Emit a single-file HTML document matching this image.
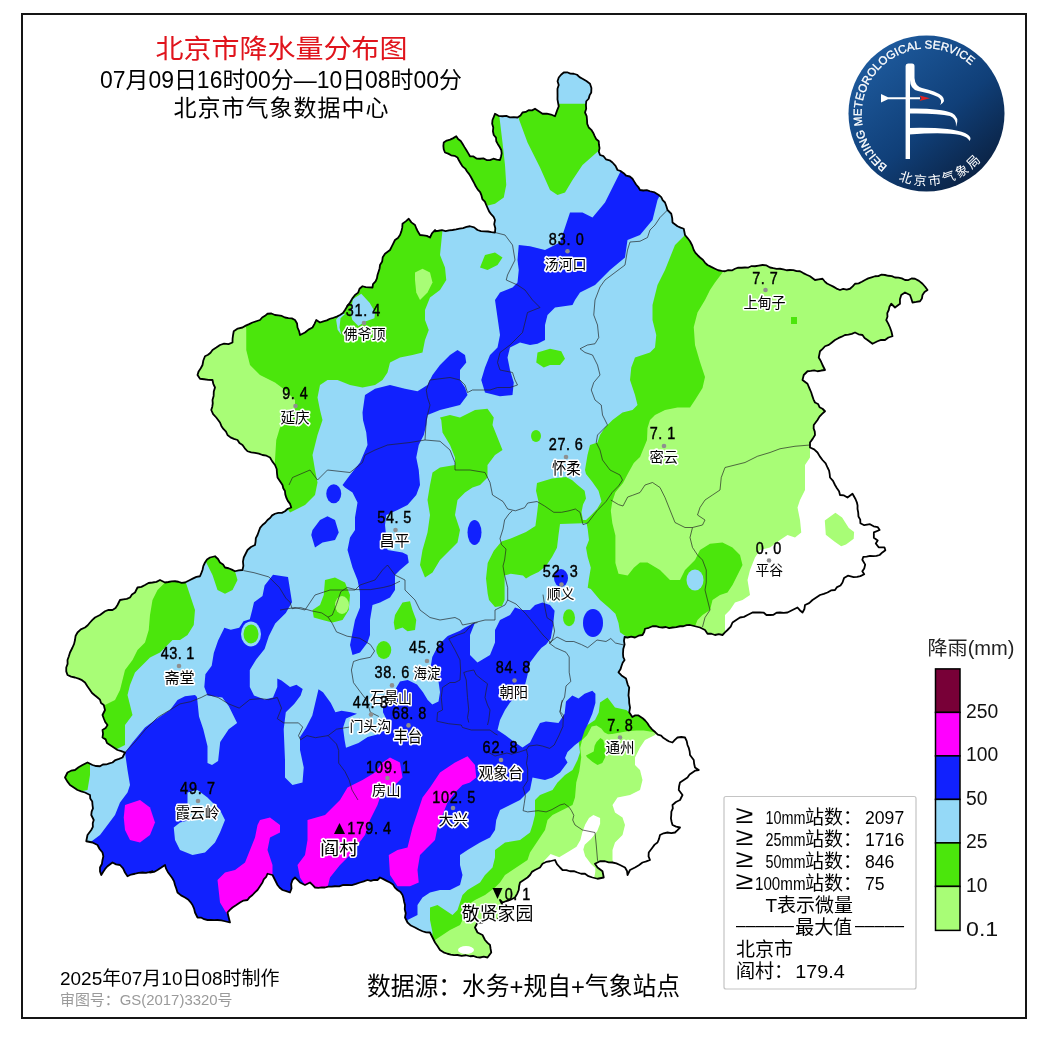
<!DOCTYPE html><html><head><meta charset="utf-8"><style>html,body{margin:0;padding:0;background:#fff;width:1045px;height:1040px;overflow:hidden}svg{display:block}</style></head><body>
<svg width="1045" height="1040" viewBox="0 0 1045 1040">
<defs><clipPath id="bj"><polygon points="558.75,77.5 561.03,74.78 563.75,72.5 567.16,72.29 570.38,73.6 573.75,73.75 577.05,74.75 579.55,77.14 582.5,78.75 586.38,81.05 590,83.75 591.41,88.01 591.25,92.5 589.57,95.41 588.64,98.75 586.25,101.25 585.95,105.01 586.19,108.84 585,112.5 586.65,116.07 587.01,119.97 587.24,123.89 588.75,127.5 591.3,129.85 593.15,132.71 594.56,135.88 596.1,138.97 598.75,141.25 598.92,144.7 599.56,148.11 598.83,151.64 600,155 603.54,156.18 605.92,159.3 609.57,160.3 612.5,162.5 615.53,165.89 617.5,170 620.85,171.16 623.67,173.2 626.21,175.74 629.79,176.5 632.5,178.75 634.25,181.64 636.04,184.51 638.32,187.06 640,190 643.32,190.5 646.76,190.05 650,191.25 654.69,192.4 658.75,195 661.24,197.16 662.67,200.21 665,202.5 666.37,206.21 667.5,210 671.25,213.75 672.21,218.08 672.5,222.5 677.5,226.25 680.57,227.64 683.75,228.75 685,235 687.57,238.07 690,241.25 692.21,245.48 693.75,250 695.43,252.84 697.64,255.23 700,257.5 702.83,259.67 704.91,262.59 707.5,265 711.23,266.92 715,268.75 718.17,270.24 721.57,270.82 725,271.25 728.24,270.05 731.88,270.42 735,268.75 738.25,267.65 741.65,267.77 745,267.5 748.39,267.54 751.59,266.05 755,266.25 758.75,265.61 762.5,265 766.51,265.46 770,267.5 773.3,268.22 776.61,268.81 780,268.75 783.32,269.3 786.58,270.25 790,270 793.37,270.08 796.62,271.18 800,271.25 803.26,273.07 806.6,274.71 810,276.25 815,280 818.74,279.3 822.5,278.75 824.61,281.3 826.99,283.53 830,285 833.35,286.62 836.53,288.6 840,290 843.24,288.8 846.71,289.53 850,288.75 852.69,286.44 855,283.75 858.64,283.33 861.87,281.79 865,280 868.2,278.39 871.59,277.31 875,276.25 878.37,276.13 881.56,274.56 885,275 888.35,275.77 891.81,276.09 895,277.5 898.5,277.66 901.86,278.4 905,280 908.39,280.06 911.58,278.5 915,278.75 919,280.87 922.5,283.75 925.15,286.75 927.5,290 924.53,292.03 922.5,295 921.95,298.41 920,301.25 916.27,301.97 912.5,302.5 911.33,298.72 910,295 905,292.5 901.25,295 899.94,299.28 900,303.75 895,307.5 891.25,303.75 889.47,306.66 888.75,310 887.28,313.17 887.47,316.76 886.25,320 888.26,323.68 890,327.5 891.49,331.81 892.5,336.25 888.44,337.51 885,340 881.11,339.81 877.5,341.25 872.5,343.75 867.5,340 864.56,337.94 862.5,335 858.57,334.3 855,332.5 851.78,333.8 848.45,334.63 845,335 841.68,336.69 838.26,338.19 835,340 831.89,342.45 828.81,344.92 825,346.25 822.6,348.85 820,351.25 818.75,357.5 820.84,361.14 822.5,365 825,370 821.23,370.51 817.5,371.25 814.17,370.43 810.83,370.91 807.5,371.25 803.75,375 802.5,380 807.5,383.75 809.35,388.14 811.25,392.5 812.3,395.91 813.45,399.28 815,402.5 818.01,403.97 819.54,407.22 822.5,408.75 825,411.25 822.12,413.84 819.49,416.64 817.5,420 813.75,425 813.63,428.4 814.78,431.64 815,435 812.65,438.85 810,442.5 810,447.5 814.15,449.41 817.5,452.5 819.8,456.38 822.5,460 825.66,463.31 827.5,467.5 829.09,470.64 829.68,474.04 830,477.5 833.01,480.91 835,485 836.92,488.2 839.05,491.31 840,495 844.03,495.4 847.5,497.5 852.5,493.75 855.58,499.23 856.84,502.31 857.56,505.5 857.5,508.85 858.22,512.66 858.46,516.54 860.24,519.67 860.38,523.27 864.23,525.19 870,524.23 873.61,526.31 877.69,527.12 879.62,530 873.85,532.4 873.85,537.69 877.69,540.58 875.77,543.46 878.65,547.31 884.42,547.31 885.38,550.19 882.37,552.44 879.62,555 876.48,555.95 873.25,556.08 870,555.96 866.67,556.71 863.27,556.92 862.31,559.81 865.19,564.62 864.23,568.46 862.31,571.35 864.23,574.23 860.38,576.15 857.05,576.88 853.65,577.12 847.88,575.67 844.04,578.08 842.5,582.5 840.48,585.48 837.06,587.06 835,590 830.97,590.41 827.5,592.5 823.77,593.81 820,595 816.27,597.52 812.5,600 809.16,603.12 805,605 804.43,608.98 802.5,612.5 799.8,610.2 797.5,607.5 792.5,610 787.5,612.5 783.75,612.92 780,612.5 776.52,612.76 773.48,614.76 770,615 766.46,615 763.53,612.55 760,612.5 756.25,612.45 752.5,612.5 747.5,615 743.95,616.85 740,617.5 736.21,619.94 732.5,622.5 730.71,626.72 727.5,630 724.96,632.46 722.5,635 718.75,634.14 715,635 711.36,633.73 707.5,633.75 705,630 700,627.5 695,626.25 690,625 686.62,625.07 683.39,626.26 680,626.25 676.29,627.11 672.5,627.5 669.17,628.1 665.83,627.01 662.5,627.5 659.17,627.03 655.9,626.17 652.5,626.25 648.85,627.79 645,628.75 644.21,632.06 642.5,635 638.57,635.72 635,637.5 631.25,636.63 627.5,637.5 624.6,637 623.97,640.8 624.6,644.6 623.26,649.11 623,653.8 623.25,657.04 624.6,660 622.67,662.8 621.5,666 620.44,669.36 618.5,672.3 621.5,675.4 626,678.5 627.7,684.6 629.2,687.7 628.82,691.55 628.5,695.4 629.11,699.18 629.2,703 630.05,707.65 629.2,712.3 632.3,717 635.19,715.38 638.5,715.4 643,718.5 645.37,720.75 647.47,723.22 649.2,726 652.05,729.39 655.4,732.3 657.83,734.71 661.15,735.62 663.55,738.08 666.35,739.85 669.23,741.5 672.5,742.5 674.83,739.83 677.5,737.5 681.25,737 685,737.5 686.72,741.09 687.5,745 688.86,748.2 689.68,751.54 690,755 693.75,760 694.15,763.79 695,767.5 698.75,770 695.36,770.58 692.5,772.5 689.57,774.57 687.5,777.5 683.77,780.03 680,782.5 679.1,786.2 678.75,790 682.5,795 680,800 675.95,802.05 672.5,805 672.82,808.43 671.38,811.63 671.25,815 670.93,818.42 671.58,821.73 672.5,825 676.11,826.68 680,827.5 677.53,830.03 675,832.5 671.25,833.08 667.5,832.5 663.59,833.26 660,835 659.04,838.85 657.5,842.5 654.62,844.62 652.5,847.5 648.75,852.5 648.54,856.39 650,860 646.31,861.43 642.5,862.5 638.85,865.15 635,867.5 630,870 627.5,875 627.01,871 625,867.5 620,865 616.38,863.37 612.5,862.5 608.65,862.46 605,861.25 600,861.25 595,863.75 597.5,867.5 602.5,871.25 603.75,877.5 597.5,878.75 592.5,877.5 588.45,876.23 585,873.75 581.15,873.74 577.5,872.5 573.87,871.16 570,871.25 566.34,870.08 562.5,870 560,867.5 556.97,864.1 555,860 550,861.25 546.06,861.94 542.5,863.75 540,867.5 535,870 531.89,871.89 530,875 527.5,877.5 523.75,880 520,882.5 519.1,886.2 518.75,890 517.12,893.87 515,897.5 510,900 506.22,901.17 502.5,902.5 500,900 502.5,905 500,910 499.81,913.49 499.18,916.88 497.5,920 492.5,920 487.5,917.5 484.4,919.4 482.5,922.5 477.5,922.5 475,927.5 477.5,932.5 482.5,935 485,940 487.31,942.69 490,945 490.58,948.76 491.25,952.5 487.5,957.5 483.75,956.72 480,957.5 476.65,957.2 473.42,956 470,956.25 465.89,955.25 461.61,955.93 457.5,955 454.11,955.03 450.79,954.54 447.5,953.75 443.54,952.29 440,950 437.63,946.16 435,942.5 432.5,937.5 430,932.5 426.18,932.3 422.5,931.25 418.68,929.51 415,927.5 410.88,925.55 407.5,922.5 405,917.5 405.74,913.33 404.74,909.17 405,905 404.09,901.68 403.48,898.3 402.5,895 400.51,891.99 397.5,890 394.9,887.6 393.03,884.47 390,882.5 386.67,880.83 383.36,879.12 380,877.5 377.5,880 374.17,879.96 370.83,880.87 367.5,880 363.78,881.35 360,882.5 355.95,883.89 351.84,885.04 347.5,885 343.28,884.88 339.23,886.42 335,886.25 331.67,886.71 328.28,886.68 325,887.5 321.67,887.4 318.33,887.81 315,887.5 312.52,884.98 310,882.5 305,885 300,882.5 297.57,879.93 295,877.5 292.5,880 291.16,884.07 291.53,888.47 290,892.5 286.28,891.15 282.5,890 279.68,887.82 277.5,885 275,880 272.5,875 267.5,873.75 266.18,876.87 263.74,879.34 262.5,882.5 259.99,886.24 257.5,890 254.92,892.42 252.5,895 249.67,897.17 247.5,900 243.52,900.55 240,902.5 236.31,905.08 232.5,907.5 229.86,909.86 227.5,912.5 228.32,915.84 229.15,919.17 230,922.5 225,921.25 221.31,920.28 217.5,920 214.17,920.09 210.83,919.94 207.5,920 204.16,919.21 201.03,917.56 197.5,917.5 195,912.5 194.09,908.64 192.5,905 190.48,902.02 188.06,899.44 185,897.5 181.01,895.36 177.5,892.5 176.35,888.72 175,885 174.05,881.31 172.21,878.06 170,875 167.75,871.96 166.06,868.64 165,865 161.31,867.59 157.5,870 153.99,871.98 150,872.5 152.5,871.25 149.22,872.13 145.93,872.85 142.5,872.5 138.7,872.82 135,873.75 131.09,874.52 127.5,876.25 125,872.5 123.09,868.35 120,865 116.05,864.34 112.5,862.5 107.5,866.25 105.1,868.94 103.1,871.92 101.25,875 99.99,871.36 100,867.5 101.9,863.97 102.5,860 103.34,856.25 102.5,852.5 99.58,849.03 97.5,845 92.5,842.5 86.25,841.25 87.5,835 91.25,830 92.87,826.86 92.74,823.29 93.75,820 91.25,815 91.64,811.66 92.96,808.44 92.5,805 92.25,801.52 90.24,798.48 90,795 85,792.5 81.21,791.37 77.5,790 73.77,787.48 70,785 67.26,781.41 65,777.5 67.5,772.5 71.08,770.73 75,770 78.57,767.23 82.5,765 87.5,762.5 92.5,765 96.18,766.02 100,766.25 102.88,764.48 106.28,764.47 109.34,763.33 112.5,762.5 115.45,760.06 119.03,758.9 122.5,757.5 125,752.5 121.32,751.04 117.5,750 113.76,747.48 110,745 106.95,743.05 105.62,739.38 102.5,737.5 103.02,733.75 102.5,730 105.6,728.1 107.5,725 105.2,721.98 103.79,718.52 102.5,715 105,710 103.75,705 101.03,703.03 99.97,699.68 97.5,697.5 94.71,695.29 92.03,692.97 90,690 87.38,686.33 85,682.5 82,680.17 78.59,678.65 75,677.5 71.11,676.66 67.5,675 66.25,671.35 66.25,667.5 67.62,663.87 67.5,660 68.87,656.29 70,652.5 72.5,647.5 74.09,643.86 75,640 75.55,636.02 77.5,632.5 80.81,629.34 85,627.5 87.74,625.24 90,622.5 92.4,619.9 95,617.5 100,615 105,611.25 108.62,609.87 112.5,610 115.56,608.06 117.5,605 120,600 123.39,599.4 126.8,598.86 130,597.5 131.97,594.47 135,592.5 137.5,587.5 141.45,586.86 145,585 148.5,583.01 152.5,582.5 156.46,581.87 160,580 165,582.5 168.32,582 171.63,581.38 175,581.25 178.32,581.76 181.57,582.85 185,582.5 190,580 193.19,578.36 196.43,576.88 200,576.25 201.29,573.14 202.5,570 203.3,566.1 205,562.5 207,559.5 210,557.5 215,556.25 217.98,558.99 220,562.5 223.07,564.43 225,567.5 228.52,568.25 231.79,569.68 235,571.25 238.69,570.28 242.5,570 243.38,565.88 242.96,561.63 243.75,557.5 245.63,553.75 247.5,550 250.93,547.02 255,545 255.57,541.6 255.83,538.12 257.5,535 258.76,531.47 260.05,527.94 262.5,525 265.3,522.8 267.5,520 270.06,517.99 272.14,515.4 275,513.75 278.32,512.87 281.86,512.84 285,511.25 287.76,508.77 291.25,507.5 290.1,503.91 287.81,500.89 286.25,497.5 285.3,494.38 284.95,491.08 283.25,488.18 282.5,485 280.01,481.24 277.5,477.5 277,473.27 276.68,469 275,465 272.26,461.41 270,457.5 266.44,455.68 262.5,455 258.84,453.7 255.06,452.89 251.21,452.35 247.5,451.25 244.79,448.3 242.5,445 239.43,443.07 237.5,440 233.87,438.93 230.49,437.36 227.5,435 226,431.65 223.37,428.98 221.36,425.94 220,422.5 216.25,417.5 213.13,414.16 211.25,410 212.28,406.74 212.75,403.42 212.5,400 213.63,395.89 213.78,391.59 215,387.5 213.31,383.9 212.5,380 208.3,379.95 204.16,379.24 200,378.75 197.5,375 198.62,371.39 200.75,368.29 202.5,365 203.34,360.51 205,356.25 208.03,354.81 210.54,352.74 212.5,350 216.3,347.57 220,345 224.08,343.72 228.5,344.16 232.5,342.5 232.58,338.71 233.08,334.97 233.75,331.25 237.77,328.55 242.5,327.5 245.74,325.64 249.15,324.13 252.5,322.5 256.25,321.25 260,320 262.16,317.5 265.01,315.84 267.5,313.75 271.4,313.5 275,315 278.44,315.42 281.85,315.95 285,317.5 288.38,318.16 291.87,318.37 295,320 297.07,323.48 297.5,327.5 299.08,331.14 300,335 305,332.5 308.48,329.6 312.5,327.5 314.51,323.82 316.25,320 320,322.5 323.35,321.3 326.83,320.42 330,318.75 333.43,317.77 336.8,316.61 340,315 342.98,312.98 345,310 347.33,306.14 350,302.5 352.24,298.58 355,295 358.16,292.65 359.52,288.76 362.5,286.25 365.78,287.07 369.13,287.34 372.5,287.5 372.99,284.07 375.56,281.47 376.91,278.39 377.5,275 378.56,271.72 379.58,268.44 380,265 382.18,261.48 382.74,257.24 385,253.75 390,250 391.7,246.69 393.34,243.34 395,240 397.93,237.93 400,235 401.37,231.37 402.24,227.63 402.5,223.75 405.72,221.37 408.75,218.75 411.38,222.37 415,225 416.37,228.48 418.02,231.82 420,235 423.45,235.36 426.87,235.85 430,237.5 431.95,233.38 435,230 435,231.25 438.48,230.75 441.95,230.04 445.54,231.1 449.01,230.36 452.5,230 456.05,229.47 459.55,228.72 463.07,228.07 466.5,226.98 470,226.25 474.15,227.33 477.5,230 480.92,231.03 484.44,231.44 488,231.51 491.49,232.06 495,232.5 495.29,228.33 494.22,224.17 495,220 493.62,216.79 491.11,214.22 489.09,211.39 487.64,208.21 486.25,205 484.89,201.68 482.35,199.01 481.47,195.42 480.13,192.09 477.65,189.38 475.75,186.35 474.19,183.14 472.5,180 470.9,177 469.15,174.11 467.05,171.45 465.21,168.61 462.49,166.36 460.72,163.48 459.01,160.56 457.5,157.5 454.54,155.84 451.12,155.33 448.17,153.64 445,152.5 443.71,149.28 443.38,145.93 443.75,142.5 446.69,140.57 450.14,139.65 453.28,138.12 456.25,136.25 458.09,138.95 460.71,141.01 462.5,143.75 464.35,146.89 466.3,149.97 468.18,153.09 470,156.25 473.5,156.42 476.49,158.6 480,158.75 483.37,158.42 486.61,160.03 489.95,160.16 493.39,158.72 496.67,159.72 500,160 500.99,156.74 501.67,153.44 501.25,150 499.67,147.04 497.88,144.19 496.28,141.23 495.97,137.64 493.75,135 492.92,131.29 493.27,127.49 492.17,123.8 492.5,120 493.79,116.89 495,113.75 498.49,115.77 502.5,116.25 506.3,115.9 509.95,117.45 513.75,117.2 517.5,117.5 520.49,115.49 522.5,112.5 525.73,111.91 528.61,110.16 532.08,110.37 535,108.75 538.76,111.23 542.5,113.75 546.83,113.74 551.01,114.54 555,116.25 556.24,112.91 557.42,109.55 558.75,106.25 558.08,102.84 557.48,99.43 557.53,95.96 557.5,92.5 557.48,88.72 558.74,85.05 557.54,81.18"/></clipPath><linearGradient id="lg1" x1="0.15" y1="0.1" x2="0.85" y2="0.95"><stop offset="0" stop-color="#1e5b9e"/><stop offset="0.55" stop-color="#103f78"/><stop offset="1" stop-color="#0a1f3e"/></linearGradient><path id="arcTop" d="M 870.5,168 A 69,69 0 1,1 981.5,160"/><path id="arcBot" d="M 893,178 A 60,60 0 0,0 968,172"/></defs>
<rect x="0" y="0" width="1045" height="1040" fill="#fff"/>
<g clip-path="url(#bj)">
<polygon points="558.75,77.5 561.03,74.78 563.75,72.5 567.16,72.29 570.38,73.6 573.75,73.75 577.05,74.75 579.55,77.14 582.5,78.75 586.38,81.05 590,83.75 591.41,88.01 591.25,92.5 589.57,95.41 588.64,98.75 586.25,101.25 585.95,105.01 586.19,108.84 585,112.5 586.65,116.07 587.01,119.97 587.24,123.89 588.75,127.5 591.3,129.85 593.15,132.71 594.56,135.88 596.1,138.97 598.75,141.25 598.92,144.7 599.56,148.11 598.83,151.64 600,155 603.54,156.18 605.92,159.3 609.57,160.3 612.5,162.5 615.53,165.89 617.5,170 620.85,171.16 623.67,173.2 626.21,175.74 629.79,176.5 632.5,178.75 634.25,181.64 636.04,184.51 638.32,187.06 640,190 643.32,190.5 646.76,190.05 650,191.25 654.69,192.4 658.75,195 661.24,197.16 662.67,200.21 665,202.5 666.37,206.21 667.5,210 671.25,213.75 672.21,218.08 672.5,222.5 677.5,226.25 680.57,227.64 683.75,228.75 685,235 687.57,238.07 690,241.25 692.21,245.48 693.75,250 695.43,252.84 697.64,255.23 700,257.5 702.83,259.67 704.91,262.59 707.5,265 711.23,266.92 715,268.75 718.17,270.24 721.57,270.82 725,271.25 728.24,270.05 731.88,270.42 735,268.75 738.25,267.65 741.65,267.77 745,267.5 748.39,267.54 751.59,266.05 755,266.25 758.75,265.61 762.5,265 766.51,265.46 770,267.5 773.3,268.22 776.61,268.81 780,268.75 783.32,269.3 786.58,270.25 790,270 793.37,270.08 796.62,271.18 800,271.25 803.26,273.07 806.6,274.71 810,276.25 815,280 818.74,279.3 822.5,278.75 824.61,281.3 826.99,283.53 830,285 833.35,286.62 836.53,288.6 840,290 843.24,288.8 846.71,289.53 850,288.75 852.69,286.44 855,283.75 858.64,283.33 861.87,281.79 865,280 868.2,278.39 871.59,277.31 875,276.25 878.37,276.13 881.56,274.56 885,275 888.35,275.77 891.81,276.09 895,277.5 898.5,277.66 901.86,278.4 905,280 908.39,280.06 911.58,278.5 915,278.75 919,280.87 922.5,283.75 925.15,286.75 927.5,290 924.53,292.03 922.5,295 921.95,298.41 920,301.25 916.27,301.97 912.5,302.5 911.33,298.72 910,295 905,292.5 901.25,295 899.94,299.28 900,303.75 895,307.5 891.25,303.75 889.47,306.66 888.75,310 887.28,313.17 887.47,316.76 886.25,320 888.26,323.68 890,327.5 891.49,331.81 892.5,336.25 888.44,337.51 885,340 881.11,339.81 877.5,341.25 872.5,343.75 867.5,340 864.56,337.94 862.5,335 858.57,334.3 855,332.5 851.78,333.8 848.45,334.63 845,335 841.68,336.69 838.26,338.19 835,340 831.89,342.45 828.81,344.92 825,346.25 822.6,348.85 820,351.25 818.75,357.5 820.84,361.14 822.5,365 825,370 821.23,370.51 817.5,371.25 814.17,370.43 810.83,370.91 807.5,371.25 803.75,375 802.5,380 807.5,383.75 809.35,388.14 811.25,392.5 812.3,395.91 813.45,399.28 815,402.5 818.01,403.97 819.54,407.22 822.5,408.75 825,411.25 822.12,413.84 819.49,416.64 817.5,420 813.75,425 813.63,428.4 814.78,431.64 815,435 812.65,438.85 810,442.5 810,447.5 814.15,449.41 817.5,452.5 819.8,456.38 822.5,460 825.66,463.31 827.5,467.5 829.09,470.64 829.68,474.04 830,477.5 833.01,480.91 835,485 836.92,488.2 839.05,491.31 840,495 844.03,495.4 847.5,497.5 852.5,493.75 855.58,499.23 856.84,502.31 857.56,505.5 857.5,508.85 858.22,512.66 858.46,516.54 860.24,519.67 860.38,523.27 864.23,525.19 870,524.23 873.61,526.31 877.69,527.12 879.62,530 873.85,532.4 873.85,537.69 877.69,540.58 875.77,543.46 878.65,547.31 884.42,547.31 885.38,550.19 882.37,552.44 879.62,555 876.48,555.95 873.25,556.08 870,555.96 866.67,556.71 863.27,556.92 862.31,559.81 865.19,564.62 864.23,568.46 862.31,571.35 864.23,574.23 860.38,576.15 857.05,576.88 853.65,577.12 847.88,575.67 844.04,578.08 842.5,582.5 840.48,585.48 837.06,587.06 835,590 830.97,590.41 827.5,592.5 823.77,593.81 820,595 816.27,597.52 812.5,600 809.16,603.12 805,605 804.43,608.98 802.5,612.5 799.8,610.2 797.5,607.5 792.5,610 787.5,612.5 783.75,612.92 780,612.5 776.52,612.76 773.48,614.76 770,615 766.46,615 763.53,612.55 760,612.5 756.25,612.45 752.5,612.5 747.5,615 743.95,616.85 740,617.5 736.21,619.94 732.5,622.5 730.71,626.72 727.5,630 724.96,632.46 722.5,635 718.75,634.14 715,635 711.36,633.73 707.5,633.75 705,630 700,627.5 695,626.25 690,625 686.62,625.07 683.39,626.26 680,626.25 676.29,627.11 672.5,627.5 669.17,628.1 665.83,627.01 662.5,627.5 659.17,627.03 655.9,626.17 652.5,626.25 648.85,627.79 645,628.75 644.21,632.06 642.5,635 638.57,635.72 635,637.5 631.25,636.63 627.5,637.5 624.6,637 623.97,640.8 624.6,644.6 623.26,649.11 623,653.8 623.25,657.04 624.6,660 622.67,662.8 621.5,666 620.44,669.36 618.5,672.3 621.5,675.4 626,678.5 627.7,684.6 629.2,687.7 628.82,691.55 628.5,695.4 629.11,699.18 629.2,703 630.05,707.65 629.2,712.3 632.3,717 635.19,715.38 638.5,715.4 643,718.5 645.37,720.75 647.47,723.22 649.2,726 652.05,729.39 655.4,732.3 657.83,734.71 661.15,735.62 663.55,738.08 666.35,739.85 669.23,741.5 672.5,742.5 674.83,739.83 677.5,737.5 681.25,737 685,737.5 686.72,741.09 687.5,745 688.86,748.2 689.68,751.54 690,755 693.75,760 694.15,763.79 695,767.5 698.75,770 695.36,770.58 692.5,772.5 689.57,774.57 687.5,777.5 683.77,780.03 680,782.5 679.1,786.2 678.75,790 682.5,795 680,800 675.95,802.05 672.5,805 672.82,808.43 671.38,811.63 671.25,815 670.93,818.42 671.58,821.73 672.5,825 676.11,826.68 680,827.5 677.53,830.03 675,832.5 671.25,833.08 667.5,832.5 663.59,833.26 660,835 659.04,838.85 657.5,842.5 654.62,844.62 652.5,847.5 648.75,852.5 648.54,856.39 650,860 646.31,861.43 642.5,862.5 638.85,865.15 635,867.5 630,870 627.5,875 627.01,871 625,867.5 620,865 616.38,863.37 612.5,862.5 608.65,862.46 605,861.25 600,861.25 595,863.75 597.5,867.5 602.5,871.25 603.75,877.5 597.5,878.75 592.5,877.5 588.45,876.23 585,873.75 581.15,873.74 577.5,872.5 573.87,871.16 570,871.25 566.34,870.08 562.5,870 560,867.5 556.97,864.1 555,860 550,861.25 546.06,861.94 542.5,863.75 540,867.5 535,870 531.89,871.89 530,875 527.5,877.5 523.75,880 520,882.5 519.1,886.2 518.75,890 517.12,893.87 515,897.5 510,900 506.22,901.17 502.5,902.5 500,900 502.5,905 500,910 499.81,913.49 499.18,916.88 497.5,920 492.5,920 487.5,917.5 484.4,919.4 482.5,922.5 477.5,922.5 475,927.5 477.5,932.5 482.5,935 485,940 487.31,942.69 490,945 490.58,948.76 491.25,952.5 487.5,957.5 483.75,956.72 480,957.5 476.65,957.2 473.42,956 470,956.25 465.89,955.25 461.61,955.93 457.5,955 454.11,955.03 450.79,954.54 447.5,953.75 443.54,952.29 440,950 437.63,946.16 435,942.5 432.5,937.5 430,932.5 426.18,932.3 422.5,931.25 418.68,929.51 415,927.5 410.88,925.55 407.5,922.5 405,917.5 405.74,913.33 404.74,909.17 405,905 404.09,901.68 403.48,898.3 402.5,895 400.51,891.99 397.5,890 394.9,887.6 393.03,884.47 390,882.5 386.67,880.83 383.36,879.12 380,877.5 377.5,880 374.17,879.96 370.83,880.87 367.5,880 363.78,881.35 360,882.5 355.95,883.89 351.84,885.04 347.5,885 343.28,884.88 339.23,886.42 335,886.25 331.67,886.71 328.28,886.68 325,887.5 321.67,887.4 318.33,887.81 315,887.5 312.52,884.98 310,882.5 305,885 300,882.5 297.57,879.93 295,877.5 292.5,880 291.16,884.07 291.53,888.47 290,892.5 286.28,891.15 282.5,890 279.68,887.82 277.5,885 275,880 272.5,875 267.5,873.75 266.18,876.87 263.74,879.34 262.5,882.5 259.99,886.24 257.5,890 254.92,892.42 252.5,895 249.67,897.17 247.5,900 243.52,900.55 240,902.5 236.31,905.08 232.5,907.5 229.86,909.86 227.5,912.5 228.32,915.84 229.15,919.17 230,922.5 225,921.25 221.31,920.28 217.5,920 214.17,920.09 210.83,919.94 207.5,920 204.16,919.21 201.03,917.56 197.5,917.5 195,912.5 194.09,908.64 192.5,905 190.48,902.02 188.06,899.44 185,897.5 181.01,895.36 177.5,892.5 176.35,888.72 175,885 174.05,881.31 172.21,878.06 170,875 167.75,871.96 166.06,868.64 165,865 161.31,867.59 157.5,870 153.99,871.98 150,872.5 152.5,871.25 149.22,872.13 145.93,872.85 142.5,872.5 138.7,872.82 135,873.75 131.09,874.52 127.5,876.25 125,872.5 123.09,868.35 120,865 116.05,864.34 112.5,862.5 107.5,866.25 105.1,868.94 103.1,871.92 101.25,875 99.99,871.36 100,867.5 101.9,863.97 102.5,860 103.34,856.25 102.5,852.5 99.58,849.03 97.5,845 92.5,842.5 86.25,841.25 87.5,835 91.25,830 92.87,826.86 92.74,823.29 93.75,820 91.25,815 91.64,811.66 92.96,808.44 92.5,805 92.25,801.52 90.24,798.48 90,795 85,792.5 81.21,791.37 77.5,790 73.77,787.48 70,785 67.26,781.41 65,777.5 67.5,772.5 71.08,770.73 75,770 78.57,767.23 82.5,765 87.5,762.5 92.5,765 96.18,766.02 100,766.25 102.88,764.48 106.28,764.47 109.34,763.33 112.5,762.5 115.45,760.06 119.03,758.9 122.5,757.5 125,752.5 121.32,751.04 117.5,750 113.76,747.48 110,745 106.95,743.05 105.62,739.38 102.5,737.5 103.02,733.75 102.5,730 105.6,728.1 107.5,725 105.2,721.98 103.79,718.52 102.5,715 105,710 103.75,705 101.03,703.03 99.97,699.68 97.5,697.5 94.71,695.29 92.03,692.97 90,690 87.38,686.33 85,682.5 82,680.17 78.59,678.65 75,677.5 71.11,676.66 67.5,675 66.25,671.35 66.25,667.5 67.62,663.87 67.5,660 68.87,656.29 70,652.5 72.5,647.5 74.09,643.86 75,640 75.55,636.02 77.5,632.5 80.81,629.34 85,627.5 87.74,625.24 90,622.5 92.4,619.9 95,617.5 100,615 105,611.25 108.62,609.87 112.5,610 115.56,608.06 117.5,605 120,600 123.39,599.4 126.8,598.86 130,597.5 131.97,594.47 135,592.5 137.5,587.5 141.45,586.86 145,585 148.5,583.01 152.5,582.5 156.46,581.87 160,580 165,582.5 168.32,582 171.63,581.38 175,581.25 178.32,581.76 181.57,582.85 185,582.5 190,580 193.19,578.36 196.43,576.88 200,576.25 201.29,573.14 202.5,570 203.3,566.1 205,562.5 207,559.5 210,557.5 215,556.25 217.98,558.99 220,562.5 223.07,564.43 225,567.5 228.52,568.25 231.79,569.68 235,571.25 238.69,570.28 242.5,570 243.38,565.88 242.96,561.63 243.75,557.5 245.63,553.75 247.5,550 250.93,547.02 255,545 255.57,541.6 255.83,538.12 257.5,535 258.76,531.47 260.05,527.94 262.5,525 265.3,522.8 267.5,520 270.06,517.99 272.14,515.4 275,513.75 278.32,512.87 281.86,512.84 285,511.25 287.76,508.77 291.25,507.5 290.1,503.91 287.81,500.89 286.25,497.5 285.3,494.38 284.95,491.08 283.25,488.18 282.5,485 280.01,481.24 277.5,477.5 277,473.27 276.68,469 275,465 272.26,461.41 270,457.5 266.44,455.68 262.5,455 258.84,453.7 255.06,452.89 251.21,452.35 247.5,451.25 244.79,448.3 242.5,445 239.43,443.07 237.5,440 233.87,438.93 230.49,437.36 227.5,435 226,431.65 223.37,428.98 221.36,425.94 220,422.5 216.25,417.5 213.13,414.16 211.25,410 212.28,406.74 212.75,403.42 212.5,400 213.63,395.89 213.78,391.59 215,387.5 213.31,383.9 212.5,380 208.3,379.95 204.16,379.24 200,378.75 197.5,375 198.62,371.39 200.75,368.29 202.5,365 203.34,360.51 205,356.25 208.03,354.81 210.54,352.74 212.5,350 216.3,347.57 220,345 224.08,343.72 228.5,344.16 232.5,342.5 232.58,338.71 233.08,334.97 233.75,331.25 237.77,328.55 242.5,327.5 245.74,325.64 249.15,324.13 252.5,322.5 256.25,321.25 260,320 262.16,317.5 265.01,315.84 267.5,313.75 271.4,313.5 275,315 278.44,315.42 281.85,315.95 285,317.5 288.38,318.16 291.87,318.37 295,320 297.07,323.48 297.5,327.5 299.08,331.14 300,335 305,332.5 308.48,329.6 312.5,327.5 314.51,323.82 316.25,320 320,322.5 323.35,321.3 326.83,320.42 330,318.75 333.43,317.77 336.8,316.61 340,315 342.98,312.98 345,310 347.33,306.14 350,302.5 352.24,298.58 355,295 358.16,292.65 359.52,288.76 362.5,286.25 365.78,287.07 369.13,287.34 372.5,287.5 372.99,284.07 375.56,281.47 376.91,278.39 377.5,275 378.56,271.72 379.58,268.44 380,265 382.18,261.48 382.74,257.24 385,253.75 390,250 391.7,246.69 393.34,243.34 395,240 397.93,237.93 400,235 401.37,231.37 402.24,227.63 402.5,223.75 405.72,221.37 408.75,218.75 411.38,222.37 415,225 416.37,228.48 418.02,231.82 420,235 423.45,235.36 426.87,235.85 430,237.5 431.95,233.38 435,230 435,231.25 438.48,230.75 441.95,230.04 445.54,231.1 449.01,230.36 452.5,230 456.05,229.47 459.55,228.72 463.07,228.07 466.5,226.98 470,226.25 474.15,227.33 477.5,230 480.92,231.03 484.44,231.44 488,231.51 491.49,232.06 495,232.5 495.29,228.33 494.22,224.17 495,220 493.62,216.79 491.11,214.22 489.09,211.39 487.64,208.21 486.25,205 484.89,201.68 482.35,199.01 481.47,195.42 480.13,192.09 477.65,189.38 475.75,186.35 474.19,183.14 472.5,180 470.9,177 469.15,174.11 467.05,171.45 465.21,168.61 462.49,166.36 460.72,163.48 459.01,160.56 457.5,157.5 454.54,155.84 451.12,155.33 448.17,153.64 445,152.5 443.71,149.28 443.38,145.93 443.75,142.5 446.69,140.57 450.14,139.65 453.28,138.12 456.25,136.25 458.09,138.95 460.71,141.01 462.5,143.75 464.35,146.89 466.3,149.97 468.18,153.09 470,156.25 473.5,156.42 476.49,158.6 480,158.75 483.37,158.42 486.61,160.03 489.95,160.16 493.39,158.72 496.67,159.72 500,160 500.99,156.74 501.67,153.44 501.25,150 499.67,147.04 497.88,144.19 496.28,141.23 495.97,137.64 493.75,135 492.92,131.29 493.27,127.49 492.17,123.8 492.5,120 493.79,116.89 495,113.75 498.49,115.77 502.5,116.25 506.3,115.9 509.95,117.45 513.75,117.2 517.5,117.5 520.49,115.49 522.5,112.5 525.73,111.91 528.61,110.16 532.08,110.37 535,108.75 538.76,111.23 542.5,113.75 546.83,113.74 551.01,114.54 555,116.25 556.24,112.91 557.42,109.55 558.75,106.25 558.08,102.84 557.48,99.43 557.53,95.96 557.5,92.5 557.48,88.72 558.74,85.05 557.54,81.18" fill="#95d9f7"/>
<polygon points="442.5,215 442.5,230 441.25,242.5 440,255 445,267.5 446.25,280 440,290 430,297.5 425,310 425,320 428.75,330 425,340 422.5,352.5 412.5,355 400,357.5 390,362.5 387.5,372.5 382.5,380 375,385 362.5,387.5 350,385 337.5,380 327.5,380 320,385 317.5,397.5 320,410 322.5,420 317.5,435 312.5,455 315,470 317.5,482.5 315,495 305,505 295,510 290,512.5 285,505 150,450 150,250 400,150" fill="#4be60c"/>
<polygon points="170,560 185,580 190,595 195,610 193.75,625 187.5,635 180,640 172.5,640 167.5,645 160,652.5 150,657.5 142.5,665 135,672.5 130,685 127.5,695 130,705 132.5,715 125,725 125,735 125,745 120,747.5 115,750 60,700 60,560" fill="#4be60c"/>
<polygon points="55,770 82.5,763 90,762 90,775 87.5,790 77.5,792 60,790" fill="#4be60c"/>
<polygon points="440,157.5 437.5,135 457.5,130 490,130 490,110 498.75,111.25 502.5,142.5 505,165 506.25,185 503.75,197.5 495,203.75 485,206.25 470,185 452.5,162.5" fill="#4be60c"/>
<polygon points="555,105 558.75,103.75 586.25,103.75 595,103.75 605,142.5 599.5,150 582.5,165 572.5,180 565,192.5 557.5,195 550,190 540,167.5 527.5,142.5 518.75,118.75 520,105" fill="#4be60c"/>
<polygon points="480,267.5 485,255 495,252.5 502.5,257.5 497.5,265 487.5,270" fill="#4be60c"/>
<polygon points="700,150 685,235 675,245 670,257.5 665,270 657.5,285 652.5,305 652.5,320 656.25,335 655,347.5 650,352.5 635,357.5 631.25,367.5 630,380 635,395 637.5,405 632.5,410 622.5,412.5 612.5,420 605,427.5 600,435 597.5,442.5 590,445 587.5,455 585,470 586,474 592,481.5 598.5,490.8 601.5,501.5 597,509 590.8,515.4 586,520 587.7,529 589,540 586,547.7 587.7,557 590.8,567.7 589,578.5 587.7,587.7 590.8,589 600,600 609,607.7 615.4,613.8 618.5,623 620,632.3 624.6,635.4 640,642 900,642 900,150" fill="#4be60c"/>
<polygon points="537,483 552,478.5 566,477 572,480 577,484.6 584.6,490.8 586,498.5 583,504.6 581.5,512.3 583,520 590,520 590,523 560,524 558.5,535 557,547.7 552,557 546,566 538.5,572 531,575.4 526,578.5 523,575.4 510.8,573.8 504.6,575.4 504.6,600 502,606 495,607 489,600 487.7,593.8 486,578.5 487.7,563 493.8,550.8 501.5,541.5 510.8,538.5 526,532 535.4,526 537,514 538.5,501.5 536,490.8" fill="#4be60c"/>
<polygon points="440,417.5 450,415 460,417.5 475,410 487.5,408.75 493.75,417.5 492.5,425 502.5,450 495,455 487.5,465 487.5,477.5 480,485 472.5,487.5 465,492.5 457.5,500 455,515 460,530 457.5,542.5 450,550 440,560 432.5,572.5 425,577.5 420,565 422.5,550 427.5,532.5 430,515 427.5,500 430,485 432.5,472.5 440,467.5 455,465 455,457.5 450,445 442.5,432.5 441.25,420" fill="#4be60c"/>
<polygon points="537.5,352.5 550,348.75 561.25,351.25 565,358.75 560,365 550,365 543.75,367.5 536.25,362.5" fill="#4be60c"/>
<polygon points="325,580 335,577.5 345,582.5 350,595 348.75,610 342.5,620 332.5,622.5 322.5,620 313.75,617.5 312.5,610 320,605 323.75,595" fill="#4be60c"/>
<polygon points="395,615 402.5,602.5 410,601.25 412.5,610 416.25,620 415,630 407.5,631.25 402.5,627.5 395,630 393.75,622.5" fill="#4be60c"/>
<polygon points="210,557.5 215,556.25 225,567.5 235,571.25 237.5,580 232.5,590 225,593.75 217.5,590 212.5,575 205,560" fill="#4be60c"/>
<polygon points="628.75,712 626.25,710 615,707.5 607.5,697.5 600,702.5 598.75,712.5 595,720 587.5,725 582.5,730 580,735 578.75,742.5 580,752.5 577.5,760 572.5,770 565,775 557.5,782.5 552.5,790 540,795 535,800 535,815 532.5,825 530,832.5 520,840 505,842.5 495,850 495,857.5 492.5,867.5 485,875 480,882.5 467.5,890 462.5,895 457.5,910 452.5,915 445,910 437.5,905 430,907.5 430,920 432.5,932.5 430,960 700,960 700,712" fill="#4be60c"/>
<ellipse cx="383.75" cy="650" rx="7.5" ry="9" fill="#4be60c"/>
<ellipse cx="536" cy="436" rx="5" ry="6" fill="#4be60c"/>
<ellipse cx="569" cy="617.7" rx="6" ry="8.5" fill="#4be60c"/>
<polygon points="361.3,293.8 369.8,303 375.1,312.2 374.4,318.3 366,321.3 358.3,326 352.2,319.8 350.6,312.2 352.9,299.1" fill="#95d9f7"/>
<polygon points="341,313 336.1,319.8 337.6,329.8 341.4,335.1 339.5,327.5 340.5,318.3 345,314" fill="#95d9f7"/>
<ellipse cx="695" cy="580" rx="8.5" ry="10.5" fill="#95d9f7"/>
<polygon points="240,300 246.25,328.75 246.25,350 250,365 260,375 275,382.5 285,390 295,400 295,407.5 292.5,420 280,427.5 276.25,440 275,460 275,470 150,470 150,300" fill="#a8fd76"/>
<polygon points="415,272.5 422.5,268.75 430,272.5 432.5,282.5 427.5,292.5 420,300 416.25,292.5 415,280" fill="#a8fd76"/>
<polygon points="165,575 165,582.5 157.5,590 152.5,600 150,615 148.75,630 145,642.5 137.5,650 132.5,660 125,670 122.5,680 120,690 115,700 105,705 60,705 60,575" fill="#a8fd76"/>
<polygon points="722.5,260 722.5,272.5 715,282.5 710,290 705,300 697.5,312.5 693.75,327 695,345 700,362 705,377 702.5,388 695,400 690,407.5 677.5,407.5 665,410 655,415 650,420 647.5,428 647,440 640,457 633.8,463 627.7,474 623,483 615.4,492.3 612.3,501.5 610.8,510.8 612.3,523 615.4,535.4 615.4,547.7 615.4,563 618.5,573.8 627.7,575.4 633.8,567.7 640,562.5 647.5,562.5 660,570 670,580 680,580 685,570 695,560 700,550 710,543.75 722.5,542.5 732.5,547.5 740,555 742.5,565 737.5,575 732.5,585 727.5,592.5 720,595 712.5,600 710,610 702.5,615 697.5,620 695,626.25 695,660 950,660 950,260" fill="#a8fd76"/>
<polygon points="670,725 654.2,732.3 648.5,731.3 643.7,730.4 636,730.4 627.3,731.3 612,734 608,734.2 604.2,732.3 601.3,728.5 596.5,725.6 591.7,726.5 587,735.2 582.1,740 580.2,747.7 581.2,757.3 580.2,765 579.2,771.7 576.25,782.5 575,797.5 572.5,805 562.5,810 552.5,815 547.5,820 545,830 540,837.5 535,845 530,852.5 527.5,860 520,865 512.5,870 505,875 500,882.5 495,887.5 485,895 475,900 467.5,905 465,915 460,925 450,930 442.5,935 435,940 430,960 700,960 700,725" fill="#a8fd76"/>
<ellipse cx="342" cy="605" rx="7" ry="9" fill="#a8fd76"/>
<polygon points="596.5,742 600.4,738 603.3,740 605.2,747.7 605.2,757.3 602.3,763 597.5,765 592.7,762 587,757.3 586,755.4 593.7,751.5 594.6,745.8" fill="#4be60c"/>
<rect x="791" y="317" width="6" height="7" fill="#4be60c"/>
<polygon points="810,440 810,457.5 805,465 805,490 800,500 797.5,507.5 800,520 801.25,532.5 795,537.5 787.5,535 780,540 770,547.5 760,550 755,557.5 750,570 747.5,580 750,595 742.5,600 735,602.5 730,610 725,615 725,625 725,660 950,660 950,440" fill="#fff"/>
<polygon points="660,728 655,735 645,740 640,747.5 635,757.5 635,765 640,770 642.5,780 640,790 630,795 617.5,797.5 612.5,805 615,812.5 622.5,817.5 625,825 622.5,835 615,842.5 612.5,850 612.5,860 615,870 700,880 700,728" fill="#fff"/>
<polygon points="593.4,815 600.1,817.9 600.1,823.7 597.2,831.3 591,839 584.7,844.8 583.3,849.6 585.2,856.3 591,864 595.3,867.9 595.3,871.7 593.8,880 549.6,880 543.8,861.2 550.6,854 559.2,857.3 568.8,851.5 576.5,846.7 580.4,840 582.3,832.3 585.2,824.6 589,817.9" fill="#fff"/>
<ellipse cx="466" cy="950" rx="8" ry="4" fill="#fff"/>
<polygon points="824.8,520.4 835.4,512.7 842.1,517.5 848.8,528 854.1,531.9 853.7,538.7 846,544.4 841.2,546.3 834.4,541.5 825.8,534.8" fill="#a8fd76"/>
<polygon points="518.75,245 530,246.25 545,250 560,242.5 570,212.5 582.5,212.5 592.5,217.5 605,202.5 620,172.5 625,160 665,185 657.5,200 652.5,220 640,235 627.5,240 625,257.5 610,270 595,285 580,292.5 575,300 572.5,305 555,307.5 547.5,315 545,325 545,340 537.5,343.75 530,345 520,342.5 510,347.5 507.5,357.5 510,370 513.75,382.5 512.5,395 500,396.25 485,392.5 481.25,380 485,367.5 490,355 497.5,347.5 500,335 497.5,317.5 495,300 500,292.5 512.5,287.5 517.5,282.5 518.75,270 517.5,260" fill="#1121fe"/>
<polygon points="362.5,412.5 365,395 375,388.75 390,385 405,388.75 417.5,391.25 427.5,385 432.5,375 440,365 450,355 457.5,350 465,355 466.25,362.5 460,370 460,380 465,387.5 467.5,395 460,405 450,407.5 440,410 427.5,415 426.25,425 423.75,435 418.75,445 416.25,457.5 418.75,470 420,485 416.25,495 407.5,505 397.5,510 386.25,515 385,525 387.5,550 402.5,552.5 407.5,555 408.75,562.5 400,570 395,575 395,590 390,597.5 380,602.5 372.5,605 370,620 370,635 367.5,642.5 360,652.5 352.5,655 350,645 352.5,632.5 355,620 360,607.5 360,592.5 357.5,580 352.5,567.5 347.5,550 350,537.5 355,530 355,517.5 357.5,502.5 352.5,492.5 345,487.5 342.5,485 350,475 360,462.5 367.5,445 366.25,432.5 363,420" fill="#1121fe"/>
<polygon points="312.5,530 320,520 327.5,516.25 335,520 338.75,532.5 335,540 322.5,542.5 315,547.5 311.25,535" fill="#1121fe"/>
<polygon points="85,845 90,842.5 100,835 107.5,825 115,815 120,802.5 127.5,792.5 130,785 127.5,770 125,752.5 132.5,742.5 145,727.5 155,720 170,710 177.5,700 185,696.25 195,695 197,697 199,716.5 203.3,729.2 207.5,746.2 207.5,763 212,765 218.1,761 220.2,742 228.7,729.2 237.1,722.9 228.7,706 222.3,697.5 207.5,695.4 204.3,687 205.4,674.2 211.7,665.8 213.8,653 218.1,640.4 224.4,627.7 230.8,629.8 239.2,627.7 243.5,621.3 249.8,619.2 252,610.8 254,602.3 262.5,596 264.6,585.4 273,574.8 288,577 290,589.6 292,602.3 285.8,612.9 275.2,623.5 268.8,636.2 264.6,648.9 256.2,659.4 249.8,670 249.8,687 254,695.4 264.6,699.6 273,697.5 277.3,687 277.3,678.5 281.5,680.6 290,687 296.4,684.8 302.7,689 300.6,695.4 294.2,703.9 285.8,712.3 283.7,729.2 285,760 285,777.5 292.5,785 302.5,782.5 303.75,767.5 300,750 300,737 306,727.7 312.3,715.4 318.5,689.2 323,692.3 330.8,703 335.4,712.3 341.5,710.8 350.8,712.3 357,713.8 346,718.5 343,727.7 344.6,740 346,747.7 358.5,743 367.7,737 380,733.8 386,727.7 386,718.5 383,712.3 383,703 395.4,689.2 400,681.5 407.7,680 417,684.6 423,692.3 427.7,700 432.3,704.6 438.5,701.5 440,692.3 438.5,681.5 435.4,675.4 430.8,666 432.3,657 438.5,645 447.7,636 460,630.8 465,627.5 475,622.5 470,635 470,655 477.5,662.5 490,655 495,642.5 495,630 500,620 510,615 515,607.5 522.5,610 530,610 535,605 542.5,602.5 550,605 554.6,610.8 553,626 550.8,638.5 546,644.6 541.5,647.7 537.5,652.5 530,662.5 527.5,675 525,685 517.5,695 510,702.5 505,710 500,720 497.5,730 505,735 515,742.5 522.5,747.5 530,742.5 535,732.5 540,723 546,721.5 558.5,723 564.6,713.8 566,701.5 572.3,695.4 578.5,698.5 584.6,693.8 592.3,690.8 595.4,693.8 595.4,703 592.3,713.8 587.7,724.6 584.6,730.8 581.5,740 575,745 567.5,752 565,758 567.5,762.5 560,772.5 552.5,777.5 545,780 532.5,777.5 530,790 520,800 510,805 500,810 496.25,820 495,830 490,837.5 480,842.5 467.5,850 460,855 460,865 462.5,875 460,885 450,890 440,890 430,892.5 422.5,897.5 417.5,905 417.5,915 407.5,920 400,960 80,960" fill="#1121fe"/>
<ellipse cx="333.75" cy="493.75" rx="7.5" ry="9.5" fill="#1121fe"/>
<ellipse cx="474.5" cy="532.5" rx="7" ry="12.5" fill="#1121fe"/>
<ellipse cx="561" cy="578" rx="7" ry="9" fill="#1121fe"/>
<ellipse cx="593" cy="623" rx="10" ry="14" fill="#1121fe"/>
<polygon points="187.5,792.5 197.5,790 207.5,797.5 220,810 225,820 220,832.5 215,842.5 205,852.5 192.5,855 180,850 175,840 173.75,827.5 180,822.5 190,820 187.5,805" fill="#95d9f7"/>
<ellipse cx="251" cy="634" rx="10" ry="12.5" fill="#95d9f7"/>
<ellipse cx="251" cy="634" rx="7.5" ry="9.5" fill="#4be60c"/>
<polygon points="455,762.5 467.5,756.25 475,765 476.25,777.5 470,782.5 462.5,785 455,792.5 447.5,802.5 442.5,815 437.5,827.5 435,840 427.5,847.5 420,855 417.5,870 418.75,882.5 410,886.25 397.5,886.25 390,875 388.75,855 397.5,850 407.5,847.5 410,837.5 412.5,827.5 417.5,812.5 422.5,797.5 430,787.5 435,780 440,772.5 447.5,767.5" fill="#ff00ff"/>
<polygon points="307.5,820 325,815 340,800 347.5,787.5 362.5,780 375,772.5 382.5,762.5 390,757.5 400,762.5 402.5,777.5 395,785 382.5,790 377.5,805 370,820 365,835 357.5,845 350,855 340,865 330,877.5 327.5,887.5 312.5,887.5 305,885 300,877.5 297.5,865 305,855 307.5,840" fill="#ff00ff"/>
<polygon points="260,820 270,817.5 280,825 280,832.5 270,837.5 267.5,850 272.5,865 272.5,875 267.5,880 262.5,887.5 252.5,895 242.5,902.5 232.5,907.5 227.5,915 220,902.5 217.5,880 225,872.5 235,870 245,862.5 250,850 255,837.5 257.5,825" fill="#ff00ff"/>
<polygon points="125,805 140,800 150,807.5 155,822.5 150,835 140,842.5 130,840 125,830 123.75,817.5" fill="#ff00ff"/>
<polyline points="495,232.5 505,235 512.5,245 515,260 507.5,275 506.25,280 517.5,285 525,290 532.5,300 540,307.5 527.5,312.5 525,322.5 522.5,332.5 515,340 510,345 500,352.5 497.5,362.5 500,370 512.5,372.5 515,380 517.5,385 510,387.5 497.5,387.5 490,390 480,390 472.5,390 467.5,392.5 465,385 460,380 450,377.5 440,378.75 430,380 426.25,390 427.5,397.5 430,405 426.25,420 425,440" fill="none" stroke="#222" stroke-width="0.8" stroke-opacity="0.85"/>
<polyline points="425,440 440,441.25 450,450 455,462.5 455,470 470,470 485,472.5 490,482.5 492.5,495 503,501.5 507.7,509 515.4,510.8 524.6,507.7 527.7,503 537,501.5 544.6,506 553.8,512.3 561.5,512.3 569,510.8 575.4,509 580,512.3 581.5,518.5 583,524.6 587.7,523 597,510.8 606,501.5 612.3,492.3 618.5,486 622.5,480" fill="none" stroke="#222" stroke-width="0.8" stroke-opacity="0.85"/>
<polyline points="425,440 410,442.5 387.5,445 375,450 365,455 362.5,462.5 350,472.5 327.5,470 317.5,480 310,470 292.5,477.5 289,485" fill="none" stroke="#222" stroke-width="0.8" stroke-opacity="0.85"/>
<polyline points="667.5,210 660,217.5 655,225 650,230 647.5,237.5 640,241.25 630,242 627.5,250 625,265 605,280 600,287 595,300 593.75,315 597.5,325 598.75,337.5 595,343.75 587.5,345 580,348.75 585,352.5 592.5,355 597.5,365 600,375 593.75,382.5 591.25,390 595,400 601.25,405 602.5,415 605,420 607.5,425 602.5,430 597.5,435 596.25,442.5 600,450 602.5,460 610,470 620,475 622.5,480" fill="none" stroke="#222" stroke-width="0.8" stroke-opacity="0.85"/>
<polyline points="810,445 795,446.25 780,448.75 770,452.5 757.5,456.25 745,462.5 735,465 725,467.5 721.25,477.5 720,490 712.5,495 705,500 700,507.5 697.5,515 705,520 702.5,525 692.5,527.5 690,537.5 692.5,547.5 697.5,555 702.5,560 706.25,570 706.25,582.5 705,590 707.5,600 710,610 705,617.5 702.5,627" fill="none" stroke="#222" stroke-width="0.8" stroke-opacity="0.85"/>
<polyline points="610.8,500 618.5,504.6 623,506 627.7,497 632.3,495.4 640,492.5 645,485 652.5,482.5 660,487.5 665,497.5 670,510 675,522.5 685,527.5 692.5,527.5" fill="none" stroke="#222" stroke-width="0.8" stroke-opacity="0.85"/>
<polyline points="512.3,510.8 509,513.8 504.6,520 503,529 500,538.5 501.5,544.6 506,549 504.6,560 503,566 504.6,575.4 507.7,587.7 507.7,600 505,605 495,610 495,620 485,620 475,622.5 462.5,625 460,620 455,617.5 440,620 430,617.5 420,610 415,600 410,595 405,590 405,580 395,575 387.5,565 382.5,570 375,580 360,585 355,590 345,590 330,590 315,595 305,610 295,607.5 280,610" fill="none" stroke="#222" stroke-width="0.8" stroke-opacity="0.85"/>
<polyline points="549.2,643 557,637 566,641.5 573.8,641.5 581.5,644.6 587.7,647.7 597,640 606,641.5 610.8,638.5 615.4,643 624,645" fill="none" stroke="#222" stroke-width="0.8" stroke-opacity="0.85"/>
<polyline points="549.2,643 555.4,647.7 566,652.3 569.2,657 569.2,672.3 570.8,681.5 566,686 564.6,697 561.5,703 560,712.3 563,718.5" fill="none" stroke="#222" stroke-width="0.8" stroke-opacity="0.85"/>
<polyline points="507.7,600 516,604 525.8,613.8 535.4,625.4 543,635 550.8,642.7" fill="none" stroke="#222" stroke-width="0.8" stroke-opacity="0.85"/>
<polyline points="543,594.6 545,608 547,617.7 552.7,621.5 554.6,631 552.7,638.8 550.8,642.7 549.2,643" fill="none" stroke="#222" stroke-width="0.8" stroke-opacity="0.85"/>
<polyline points="562.3,700 560,711.5 563.4,715 562.9,726.5 558.8,735.8 554.2,745 549.6,748.4 542.7,746.1 536.9,745 528.8,746.1 526.5,749.6 527.7,755.4 526.5,763.4 527.7,769.2 527.7,780.7 523.1,787.7 525.4,795.7 524.2,803.8 523.1,810.7 527.7,811.9 538.1,810.7 546.1,811.9 551.9,809.6 560,805 564.6,803.8 569.2,807.3 571.5,810.7 573.8,815.3 572.7,820 575,825 582.5,830 595,832.5 596.25,845 597.5,860 600,866" fill="none" stroke="#222" stroke-width="0.8" stroke-opacity="0.85"/>
<polyline points="526.5,749.6 519.6,751.9 511.5,754.2 506.9,753 502.3,754.2 495,756 488,752" fill="none" stroke="#222" stroke-width="0.8" stroke-opacity="0.85"/>
<polyline points="243.5,570.6 254,572.7 268.8,576.9 279.4,587.5 285.8,598.1 290,602.3 292.1,608.7 300.6,607.6 311.2,610.8 321.7,612.9 328.1,617.1 332.3,615 336.5,604.4 340.8,591.7 347.1,587.5 355.6,589.6 370.4,589.6 383.1,587.5 391.5,585.4 400,581.2" fill="none" stroke="#222" stroke-width="0.8" stroke-opacity="0.85"/>
<polyline points="328.1,617.1 332.3,623.5 336.5,631.9 347.1,636.2 359.8,638.3 370.4,644.6 374.6,651 370.4,657.3 359.8,659.4 353.5,661.5 351.4,670 353.5,682.7 359.8,691.2 366.2,699.6 370.4,712.3 378.9,716.5" fill="none" stroke="#222" stroke-width="0.8" stroke-opacity="0.85"/>
<polyline points="125,752.5 135,742 145,730 157.5,717.5 170,710 180,703.9 190.6,701.7 201.2,697.5 207.5,694.3 218.1,697.5 228.7,703.9 239.2,708.1 249.8,699.6 260.4,698.6 268.8,699.6 277.3,697.5 281.5,708.1 277.3,718.7 283.7,722.9 298.5,722.9 302.7,727.1 298.5,735.6 300.6,739.8 306.9,735.6 315.4,737.7 328.1,735.6 336.5,729.2 349.2,727.1 359.8,718.7" fill="none" stroke="#222" stroke-width="0.8" stroke-opacity="0.85"/>
<polyline points="328.1,735.6 336.5,744 338.7,750.4 338.7,763.1 345,771.6 349.2,780 352,790 358,800" fill="none" stroke="#222" stroke-width="0.8" stroke-opacity="0.85"/>
<polyline points="448.75,638.75 455,650 460,660 460.6,670 460,680 455,682.5 450,682.5 442.5,687.5 441.25,697.5 442.5,710 437.5,712.5 436.9,721.25 448.75,723.75 461.25,725 462.5,727.5 471.25,730 482.5,730 490,730 495,733.75 497.5,735" fill="none" stroke="#222" stroke-width="0.8" stroke-opacity="0.85"/>
<polyline points="463.75,672.5 467.5,671.25 473.75,670 476.25,675 482.5,680 487.5,683.75 486.25,690 485,697.5 487.5,705 490,710 488.75,720 487.5,725" fill="none" stroke="#222" stroke-width="0.8" stroke-opacity="0.85"/>
<polyline points="463.75,672.5 466.25,680 467.5,697.5 468.75,710 467.5,717.5 468.75,722.5" fill="none" stroke="#222" stroke-width="0.8" stroke-opacity="0.85"/>
<polyline points="448.75,638.75 457.5,635 465,632.5 472.5,623.75 477.5,622.5" fill="none" stroke="#222" stroke-width="0.8" stroke-opacity="0.85"/>
</g>
<polygon points="558.75,77.5 561.03,74.78 563.75,72.5 567.16,72.29 570.38,73.6 573.75,73.75 577.05,74.75 579.55,77.14 582.5,78.75 586.38,81.05 590,83.75 591.41,88.01 591.25,92.5 589.57,95.41 588.64,98.75 586.25,101.25 585.95,105.01 586.19,108.84 585,112.5 586.65,116.07 587.01,119.97 587.24,123.89 588.75,127.5 591.3,129.85 593.15,132.71 594.56,135.88 596.1,138.97 598.75,141.25 598.92,144.7 599.56,148.11 598.83,151.64 600,155 603.54,156.18 605.92,159.3 609.57,160.3 612.5,162.5 615.53,165.89 617.5,170 620.85,171.16 623.67,173.2 626.21,175.74 629.79,176.5 632.5,178.75 634.25,181.64 636.04,184.51 638.32,187.06 640,190 643.32,190.5 646.76,190.05 650,191.25 654.69,192.4 658.75,195 661.24,197.16 662.67,200.21 665,202.5 666.37,206.21 667.5,210 671.25,213.75 672.21,218.08 672.5,222.5 677.5,226.25 680.57,227.64 683.75,228.75 685,235 687.57,238.07 690,241.25 692.21,245.48 693.75,250 695.43,252.84 697.64,255.23 700,257.5 702.83,259.67 704.91,262.59 707.5,265 711.23,266.92 715,268.75 718.17,270.24 721.57,270.82 725,271.25 728.24,270.05 731.88,270.42 735,268.75 738.25,267.65 741.65,267.77 745,267.5 748.39,267.54 751.59,266.05 755,266.25 758.75,265.61 762.5,265 766.51,265.46 770,267.5 773.3,268.22 776.61,268.81 780,268.75 783.32,269.3 786.58,270.25 790,270 793.37,270.08 796.62,271.18 800,271.25 803.26,273.07 806.6,274.71 810,276.25 815,280 818.74,279.3 822.5,278.75 824.61,281.3 826.99,283.53 830,285 833.35,286.62 836.53,288.6 840,290 843.24,288.8 846.71,289.53 850,288.75 852.69,286.44 855,283.75 858.64,283.33 861.87,281.79 865,280 868.2,278.39 871.59,277.31 875,276.25 878.37,276.13 881.56,274.56 885,275 888.35,275.77 891.81,276.09 895,277.5 898.5,277.66 901.86,278.4 905,280 908.39,280.06 911.58,278.5 915,278.75 919,280.87 922.5,283.75 925.15,286.75 927.5,290 924.53,292.03 922.5,295 921.95,298.41 920,301.25 916.27,301.97 912.5,302.5 911.33,298.72 910,295 905,292.5 901.25,295 899.94,299.28 900,303.75 895,307.5 891.25,303.75 889.47,306.66 888.75,310 887.28,313.17 887.47,316.76 886.25,320 888.26,323.68 890,327.5 891.49,331.81 892.5,336.25 888.44,337.51 885,340 881.11,339.81 877.5,341.25 872.5,343.75 867.5,340 864.56,337.94 862.5,335 858.57,334.3 855,332.5 851.78,333.8 848.45,334.63 845,335 841.68,336.69 838.26,338.19 835,340 831.89,342.45 828.81,344.92 825,346.25 822.6,348.85 820,351.25 818.75,357.5 820.84,361.14 822.5,365 825,370 821.23,370.51 817.5,371.25 814.17,370.43 810.83,370.91 807.5,371.25 803.75,375 802.5,380 807.5,383.75 809.35,388.14 811.25,392.5 812.3,395.91 813.45,399.28 815,402.5 818.01,403.97 819.54,407.22 822.5,408.75 825,411.25 822.12,413.84 819.49,416.64 817.5,420 813.75,425 813.63,428.4 814.78,431.64 815,435 812.65,438.85 810,442.5 810,447.5 814.15,449.41 817.5,452.5 819.8,456.38 822.5,460 825.66,463.31 827.5,467.5 829.09,470.64 829.68,474.04 830,477.5 833.01,480.91 835,485 836.92,488.2 839.05,491.31 840,495 844.03,495.4 847.5,497.5 852.5,493.75 855.58,499.23 856.84,502.31 857.56,505.5 857.5,508.85 858.22,512.66 858.46,516.54 860.24,519.67 860.38,523.27 864.23,525.19 870,524.23 873.61,526.31 877.69,527.12 879.62,530 873.85,532.4 873.85,537.69 877.69,540.58 875.77,543.46 878.65,547.31 884.42,547.31 885.38,550.19 882.37,552.44 879.62,555 876.48,555.95 873.25,556.08 870,555.96 866.67,556.71 863.27,556.92 862.31,559.81 865.19,564.62 864.23,568.46 862.31,571.35 864.23,574.23 860.38,576.15 857.05,576.88 853.65,577.12 847.88,575.67 844.04,578.08 842.5,582.5 840.48,585.48 837.06,587.06 835,590 830.97,590.41 827.5,592.5 823.77,593.81 820,595 816.27,597.52 812.5,600 809.16,603.12 805,605 804.43,608.98 802.5,612.5 799.8,610.2 797.5,607.5 792.5,610 787.5,612.5 783.75,612.92 780,612.5 776.52,612.76 773.48,614.76 770,615 766.46,615 763.53,612.55 760,612.5 756.25,612.45 752.5,612.5 747.5,615 743.95,616.85 740,617.5 736.21,619.94 732.5,622.5 730.71,626.72 727.5,630 724.96,632.46 722.5,635 718.75,634.14 715,635 711.36,633.73 707.5,633.75 705,630 700,627.5 695,626.25 690,625 686.62,625.07 683.39,626.26 680,626.25 676.29,627.11 672.5,627.5 669.17,628.1 665.83,627.01 662.5,627.5 659.17,627.03 655.9,626.17 652.5,626.25 648.85,627.79 645,628.75 644.21,632.06 642.5,635 638.57,635.72 635,637.5 631.25,636.63 627.5,637.5 624.6,637 623.97,640.8 624.6,644.6 623.26,649.11 623,653.8 623.25,657.04 624.6,660 622.67,662.8 621.5,666 620.44,669.36 618.5,672.3 621.5,675.4 626,678.5 627.7,684.6 629.2,687.7 628.82,691.55 628.5,695.4 629.11,699.18 629.2,703 630.05,707.65 629.2,712.3 632.3,717 635.19,715.38 638.5,715.4 643,718.5 645.37,720.75 647.47,723.22 649.2,726 652.05,729.39 655.4,732.3 657.83,734.71 661.15,735.62 663.55,738.08 666.35,739.85 669.23,741.5 672.5,742.5 674.83,739.83 677.5,737.5 681.25,737 685,737.5 686.72,741.09 687.5,745 688.86,748.2 689.68,751.54 690,755 693.75,760 694.15,763.79 695,767.5 698.75,770 695.36,770.58 692.5,772.5 689.57,774.57 687.5,777.5 683.77,780.03 680,782.5 679.1,786.2 678.75,790 682.5,795 680,800 675.95,802.05 672.5,805 672.82,808.43 671.38,811.63 671.25,815 670.93,818.42 671.58,821.73 672.5,825 676.11,826.68 680,827.5 677.53,830.03 675,832.5 671.25,833.08 667.5,832.5 663.59,833.26 660,835 659.04,838.85 657.5,842.5 654.62,844.62 652.5,847.5 648.75,852.5 648.54,856.39 650,860 646.31,861.43 642.5,862.5 638.85,865.15 635,867.5 630,870 627.5,875 627.01,871 625,867.5 620,865 616.38,863.37 612.5,862.5 608.65,862.46 605,861.25 600,861.25 595,863.75 597.5,867.5 602.5,871.25 603.75,877.5 597.5,878.75 592.5,877.5 588.45,876.23 585,873.75 581.15,873.74 577.5,872.5 573.87,871.16 570,871.25 566.34,870.08 562.5,870 560,867.5 556.97,864.1 555,860 550,861.25 546.06,861.94 542.5,863.75 540,867.5 535,870 531.89,871.89 530,875 527.5,877.5 523.75,880 520,882.5 519.1,886.2 518.75,890 517.12,893.87 515,897.5 510,900 506.22,901.17 502.5,902.5 500,900 502.5,905 500,910 499.81,913.49 499.18,916.88 497.5,920 492.5,920 487.5,917.5 484.4,919.4 482.5,922.5 477.5,922.5 475,927.5 477.5,932.5 482.5,935 485,940 487.31,942.69 490,945 490.58,948.76 491.25,952.5 487.5,957.5 483.75,956.72 480,957.5 476.65,957.2 473.42,956 470,956.25 465.89,955.25 461.61,955.93 457.5,955 454.11,955.03 450.79,954.54 447.5,953.75 443.54,952.29 440,950 437.63,946.16 435,942.5 432.5,937.5 430,932.5 426.18,932.3 422.5,931.25 418.68,929.51 415,927.5 410.88,925.55 407.5,922.5 405,917.5 405.74,913.33 404.74,909.17 405,905 404.09,901.68 403.48,898.3 402.5,895 400.51,891.99 397.5,890 394.9,887.6 393.03,884.47 390,882.5 386.67,880.83 383.36,879.12 380,877.5 377.5,880 374.17,879.96 370.83,880.87 367.5,880 363.78,881.35 360,882.5 355.95,883.89 351.84,885.04 347.5,885 343.28,884.88 339.23,886.42 335,886.25 331.67,886.71 328.28,886.68 325,887.5 321.67,887.4 318.33,887.81 315,887.5 312.52,884.98 310,882.5 305,885 300,882.5 297.57,879.93 295,877.5 292.5,880 291.16,884.07 291.53,888.47 290,892.5 286.28,891.15 282.5,890 279.68,887.82 277.5,885 275,880 272.5,875 267.5,873.75 266.18,876.87 263.74,879.34 262.5,882.5 259.99,886.24 257.5,890 254.92,892.42 252.5,895 249.67,897.17 247.5,900 243.52,900.55 240,902.5 236.31,905.08 232.5,907.5 229.86,909.86 227.5,912.5 228.32,915.84 229.15,919.17 230,922.5 225,921.25 221.31,920.28 217.5,920 214.17,920.09 210.83,919.94 207.5,920 204.16,919.21 201.03,917.56 197.5,917.5 195,912.5 194.09,908.64 192.5,905 190.48,902.02 188.06,899.44 185,897.5 181.01,895.36 177.5,892.5 176.35,888.72 175,885 174.05,881.31 172.21,878.06 170,875 167.75,871.96 166.06,868.64 165,865 161.31,867.59 157.5,870 153.99,871.98 150,872.5 152.5,871.25 149.22,872.13 145.93,872.85 142.5,872.5 138.7,872.82 135,873.75 131.09,874.52 127.5,876.25 125,872.5 123.09,868.35 120,865 116.05,864.34 112.5,862.5 107.5,866.25 105.1,868.94 103.1,871.92 101.25,875 99.99,871.36 100,867.5 101.9,863.97 102.5,860 103.34,856.25 102.5,852.5 99.58,849.03 97.5,845 92.5,842.5 86.25,841.25 87.5,835 91.25,830 92.87,826.86 92.74,823.29 93.75,820 91.25,815 91.64,811.66 92.96,808.44 92.5,805 92.25,801.52 90.24,798.48 90,795 85,792.5 81.21,791.37 77.5,790 73.77,787.48 70,785 67.26,781.41 65,777.5 67.5,772.5 71.08,770.73 75,770 78.57,767.23 82.5,765 87.5,762.5 92.5,765 96.18,766.02 100,766.25 102.88,764.48 106.28,764.47 109.34,763.33 112.5,762.5 115.45,760.06 119.03,758.9 122.5,757.5 125,752.5 121.32,751.04 117.5,750 113.76,747.48 110,745 106.95,743.05 105.62,739.38 102.5,737.5 103.02,733.75 102.5,730 105.6,728.1 107.5,725 105.2,721.98 103.79,718.52 102.5,715 105,710 103.75,705 101.03,703.03 99.97,699.68 97.5,697.5 94.71,695.29 92.03,692.97 90,690 87.38,686.33 85,682.5 82,680.17 78.59,678.65 75,677.5 71.11,676.66 67.5,675 66.25,671.35 66.25,667.5 67.62,663.87 67.5,660 68.87,656.29 70,652.5 72.5,647.5 74.09,643.86 75,640 75.55,636.02 77.5,632.5 80.81,629.34 85,627.5 87.74,625.24 90,622.5 92.4,619.9 95,617.5 100,615 105,611.25 108.62,609.87 112.5,610 115.56,608.06 117.5,605 120,600 123.39,599.4 126.8,598.86 130,597.5 131.97,594.47 135,592.5 137.5,587.5 141.45,586.86 145,585 148.5,583.01 152.5,582.5 156.46,581.87 160,580 165,582.5 168.32,582 171.63,581.38 175,581.25 178.32,581.76 181.57,582.85 185,582.5 190,580 193.19,578.36 196.43,576.88 200,576.25 201.29,573.14 202.5,570 203.3,566.1 205,562.5 207,559.5 210,557.5 215,556.25 217.98,558.99 220,562.5 223.07,564.43 225,567.5 228.52,568.25 231.79,569.68 235,571.25 238.69,570.28 242.5,570 243.38,565.88 242.96,561.63 243.75,557.5 245.63,553.75 247.5,550 250.93,547.02 255,545 255.57,541.6 255.83,538.12 257.5,535 258.76,531.47 260.05,527.94 262.5,525 265.3,522.8 267.5,520 270.06,517.99 272.14,515.4 275,513.75 278.32,512.87 281.86,512.84 285,511.25 287.76,508.77 291.25,507.5 290.1,503.91 287.81,500.89 286.25,497.5 285.3,494.38 284.95,491.08 283.25,488.18 282.5,485 280.01,481.24 277.5,477.5 277,473.27 276.68,469 275,465 272.26,461.41 270,457.5 266.44,455.68 262.5,455 258.84,453.7 255.06,452.89 251.21,452.35 247.5,451.25 244.79,448.3 242.5,445 239.43,443.07 237.5,440 233.87,438.93 230.49,437.36 227.5,435 226,431.65 223.37,428.98 221.36,425.94 220,422.5 216.25,417.5 213.13,414.16 211.25,410 212.28,406.74 212.75,403.42 212.5,400 213.63,395.89 213.78,391.59 215,387.5 213.31,383.9 212.5,380 208.3,379.95 204.16,379.24 200,378.75 197.5,375 198.62,371.39 200.75,368.29 202.5,365 203.34,360.51 205,356.25 208.03,354.81 210.54,352.74 212.5,350 216.3,347.57 220,345 224.08,343.72 228.5,344.16 232.5,342.5 232.58,338.71 233.08,334.97 233.75,331.25 237.77,328.55 242.5,327.5 245.74,325.64 249.15,324.13 252.5,322.5 256.25,321.25 260,320 262.16,317.5 265.01,315.84 267.5,313.75 271.4,313.5 275,315 278.44,315.42 281.85,315.95 285,317.5 288.38,318.16 291.87,318.37 295,320 297.07,323.48 297.5,327.5 299.08,331.14 300,335 305,332.5 308.48,329.6 312.5,327.5 314.51,323.82 316.25,320 320,322.5 323.35,321.3 326.83,320.42 330,318.75 333.43,317.77 336.8,316.61 340,315 342.98,312.98 345,310 347.33,306.14 350,302.5 352.24,298.58 355,295 358.16,292.65 359.52,288.76 362.5,286.25 365.78,287.07 369.13,287.34 372.5,287.5 372.99,284.07 375.56,281.47 376.91,278.39 377.5,275 378.56,271.72 379.58,268.44 380,265 382.18,261.48 382.74,257.24 385,253.75 390,250 391.7,246.69 393.34,243.34 395,240 397.93,237.93 400,235 401.37,231.37 402.24,227.63 402.5,223.75 405.72,221.37 408.75,218.75 411.38,222.37 415,225 416.37,228.48 418.02,231.82 420,235 423.45,235.36 426.87,235.85 430,237.5 431.95,233.38 435,230 435,231.25 438.48,230.75 441.95,230.04 445.54,231.1 449.01,230.36 452.5,230 456.05,229.47 459.55,228.72 463.07,228.07 466.5,226.98 470,226.25 474.15,227.33 477.5,230 480.92,231.03 484.44,231.44 488,231.51 491.49,232.06 495,232.5 495.29,228.33 494.22,224.17 495,220 493.62,216.79 491.11,214.22 489.09,211.39 487.64,208.21 486.25,205 484.89,201.68 482.35,199.01 481.47,195.42 480.13,192.09 477.65,189.38 475.75,186.35 474.19,183.14 472.5,180 470.9,177 469.15,174.11 467.05,171.45 465.21,168.61 462.49,166.36 460.72,163.48 459.01,160.56 457.5,157.5 454.54,155.84 451.12,155.33 448.17,153.64 445,152.5 443.71,149.28 443.38,145.93 443.75,142.5 446.69,140.57 450.14,139.65 453.28,138.12 456.25,136.25 458.09,138.95 460.71,141.01 462.5,143.75 464.35,146.89 466.3,149.97 468.18,153.09 470,156.25 473.5,156.42 476.49,158.6 480,158.75 483.37,158.42 486.61,160.03 489.95,160.16 493.39,158.72 496.67,159.72 500,160 500.99,156.74 501.67,153.44 501.25,150 499.67,147.04 497.88,144.19 496.28,141.23 495.97,137.64 493.75,135 492.92,131.29 493.27,127.49 492.17,123.8 492.5,120 493.79,116.89 495,113.75 498.49,115.77 502.5,116.25 506.3,115.9 509.95,117.45 513.75,117.2 517.5,117.5 520.49,115.49 522.5,112.5 525.73,111.91 528.61,110.16 532.08,110.37 535,108.75 538.76,111.23 542.5,113.75 546.83,113.74 551.01,114.54 555,116.25 556.24,112.91 557.42,109.55 558.75,106.25 558.08,102.84 557.48,99.43 557.53,95.96 557.5,92.5 557.48,88.72 558.74,85.05 557.54,81.18" fill="none" stroke="#000" stroke-width="1.8" stroke-linejoin="round"/>
<rect x="22" y="14" width="1004" height="1004" fill="none" stroke="#151515" stroke-width="2"/>
<text x="155.5" y="58" font-family='"Liberation Sans","Noto Sans CJK SC",sans-serif' font-size="26.5" textLength="252" lengthAdjust="spacingAndGlyphs" fill="#e0141c">北京市降水量分布图</text>
<text x="100" y="88" font-family='"Liberation Sans","Noto Sans CJK SC",sans-serif' font-size="23" textLength="362" lengthAdjust="spacingAndGlyphs" fill="#000">07月09日16时00分—10日08时00分</text>
<text x="173.5" y="115.5" font-family='"Liberation Sans","Noto Sans CJK SC",sans-serif' font-size="23" textLength="215" lengthAdjust="spacing" fill="#000">北京市气象数据中心</text>
<circle cx="567.5" cy="251.25" r="2.3" fill="#8f8f8f"/>
<text x="544.4" y="269.0" font-family='"Liberation Sans","Noto Sans CJK SC",sans-serif' font-size="14.2" textLength="42.1" lengthAdjust="spacingAndGlyphs" fill="#000" stroke="#fff" stroke-width="3.2" stroke-linejoin="round" paint-order="stroke">汤河口</text>
<text transform="translate(548.75,245.0) scale(0.84,1)" x="4.7 15.4 23.5 37.0" y="0" font-family="Liberation Sans,sans-serif" font-size="17.2" text-anchor="middle" fill="#000" stroke="#000" stroke-width="0.45">83.0</text>
<circle cx="364" cy="323" r="2.3" fill="#8f8f8f"/>
<text x="343.4" y="339.0" font-family='"Liberation Sans","Noto Sans CJK SC",sans-serif' font-size="14.2" textLength="42.1" lengthAdjust="spacingAndGlyphs" fill="#000" stroke="#fff" stroke-width="3.2" stroke-linejoin="round" paint-order="stroke">佛爷顶</text>
<text transform="translate(346,316.0) scale(0.84,1)" x="4.5 15.0 22.9 36.0" y="0" font-family="Liberation Sans,sans-serif" font-size="17.2" text-anchor="middle" fill="#000" stroke="#000" stroke-width="0.45">31.4</text>
<circle cx="295.5" cy="406" r="2.3" fill="#8f8f8f"/>
<text x="280.4" y="423.0" font-family='"Liberation Sans","Noto Sans CJK SC",sans-serif' font-size="14.8" textLength="29.2" lengthAdjust="spacingAndGlyphs" fill="#000" stroke="#fff" stroke-width="3.2" stroke-linejoin="round" paint-order="stroke">延庆</text>
<text transform="translate(282.5,399.0) scale(0.84,1)" x="4.5 12.3 25.3" y="0" font-family="Liberation Sans,sans-serif" font-size="17.2" text-anchor="middle" fill="#000" stroke="#000" stroke-width="0.45">9.4</text>
<circle cx="765.5" cy="290" r="2.3" fill="#8f8f8f"/>
<text x="743.4" y="308.0" font-family='"Liberation Sans","Noto Sans CJK SC",sans-serif' font-size="14.8" textLength="42.2" lengthAdjust="spacingAndGlyphs" fill="#000" stroke="#fff" stroke-width="3.2" stroke-linejoin="round" paint-order="stroke">上甸子</text>
<text transform="translate(752.5,284.0) scale(0.84,1)" x="4.5 12.3 25.3" y="0" font-family="Liberation Sans,sans-serif" font-size="17.2" text-anchor="middle" fill="#000" stroke="#000" stroke-width="0.45">7.7</text>
<circle cx="566" cy="457" r="2.3" fill="#8f8f8f"/>
<text x="551.9" y="473.9" font-family='"Liberation Sans","Noto Sans CJK SC",sans-serif' font-size="15.9" textLength="28.8" lengthAdjust="spacingAndGlyphs" fill="#000" stroke="#fff" stroke-width="3.2" stroke-linejoin="round" paint-order="stroke">怀柔</text>
<text transform="translate(549,450.0) scale(0.84,1)" x="4.4 14.8 22.6 35.4" y="0" font-family="Liberation Sans,sans-serif" font-size="17.2" text-anchor="middle" fill="#000" stroke="#000" stroke-width="0.45">27.6</text>
<circle cx="664" cy="446" r="2.3" fill="#8f8f8f"/>
<text x="649.4" y="461.5" font-family='"Liberation Sans","Noto Sans CJK SC",sans-serif' font-size="14.2" textLength="28.6" lengthAdjust="spacingAndGlyphs" fill="#000" stroke="#fff" stroke-width="3.2" stroke-linejoin="round" paint-order="stroke">密云</text>
<text transform="translate(650,439.0) scale(0.84,1)" x="4.5 12.3 25.3" y="0" font-family="Liberation Sans,sans-serif" font-size="17.2" text-anchor="middle" fill="#000" stroke="#000" stroke-width="0.45">7.1</text>
<circle cx="395.5" cy="530" r="2.3" fill="#8f8f8f"/>
<text x="379.4" y="546.4" font-family='"Liberation Sans","Noto Sans CJK SC",sans-serif' font-size="15.3" textLength="30.2" lengthAdjust="spacingAndGlyphs" fill="#000" stroke="#fff" stroke-width="3.2" stroke-linejoin="round" paint-order="stroke">昌平</text>
<text transform="translate(377.5,522.5) scale(0.84,1)" x="4.4 14.8 22.6 35.4" y="0" font-family="Liberation Sans,sans-serif" font-size="17.2" text-anchor="middle" fill="#000" stroke="#000" stroke-width="0.45">54.5</text>
<circle cx="769" cy="560.5" r="2.3" fill="#8f8f8f"/>
<text x="755.5" y="575.0" font-family='"Liberation Sans","Noto Sans CJK SC",sans-serif' font-size="13.6" textLength="27.6" lengthAdjust="spacingAndGlyphs" fill="#000" stroke="#fff" stroke-width="3.2" stroke-linejoin="round" paint-order="stroke">平谷</text>
<text transform="translate(756,554.0) scale(0.84,1)" x="4.5 12.3 25.3" y="0" font-family="Liberation Sans,sans-serif" font-size="17.2" text-anchor="middle" fill="#000" stroke="#000" stroke-width="0.45">0.0</text>
<circle cx="561.5" cy="584.6" r="2.3" fill="#8f8f8f"/>
<text x="547.1" y="599.0" font-family='"Liberation Sans","Noto Sans CJK SC",sans-serif' font-size="14.0" textLength="27.4" lengthAdjust="spacingAndGlyphs" fill="#000" stroke="#fff" stroke-width="3.2" stroke-linejoin="round" paint-order="stroke">顺义</text>
<text transform="translate(543,577.0) scale(0.84,1)" x="4.6 15.3 23.3 36.7" y="0" font-family="Liberation Sans,sans-serif" font-size="17.2" text-anchor="middle" fill="#000" stroke="#000" stroke-width="0.45">52.3</text>
<circle cx="179" cy="666" r="2.3" fill="#8f8f8f"/>
<text x="164.4" y="683.0" font-family='"Liberation Sans","Noto Sans CJK SC",sans-serif' font-size="14.8" textLength="30.2" lengthAdjust="spacingAndGlyphs" fill="#000" stroke="#fff" stroke-width="3.2" stroke-linejoin="round" paint-order="stroke">斋堂</text>
<text transform="translate(161,659.0) scale(0.84,1)" x="4.4 14.6 22.3 34.9" y="0" font-family="Liberation Sans,sans-serif" font-size="17.2" text-anchor="middle" fill="#000" stroke="#000" stroke-width="0.45">43.1</text>
<circle cx="427" cy="661" r="2.3" fill="#8f8f8f"/>
<text x="413.4" y="677.5" font-family='"Liberation Sans","Noto Sans CJK SC",sans-serif' font-size="14.2" textLength="27.1" lengthAdjust="spacingAndGlyphs" fill="#000" stroke="#fff" stroke-width="3.2" stroke-linejoin="round" paint-order="stroke">海淀</text>
<text transform="translate(409,653.0) scale(0.84,1)" x="4.7 15.4 23.5 37.0" y="0" font-family="Liberation Sans,sans-serif" font-size="17.2" text-anchor="middle" fill="#000" stroke="#000" stroke-width="0.45">45.8</text>
<circle cx="392" cy="685.4" r="2.3" fill="#8f8f8f"/>
<text x="370.2" y="703.0" font-family='"Liberation Sans","Noto Sans CJK SC",sans-serif' font-size="15.0" textLength="41.9" lengthAdjust="spacingAndGlyphs" fill="#000" stroke="#fff" stroke-width="3.2" stroke-linejoin="round" paint-order="stroke">石景山</text>
<text transform="translate(374.6,678.0) scale(0.84,1)" x="4.6 15.2 23.1 36.4" y="0" font-family="Liberation Sans,sans-serif" font-size="17.2" text-anchor="middle" fill="#000" stroke="#000" stroke-width="0.45">38.6</text>
<circle cx="371" cy="714.6" r="2.3" fill="#8f8f8f"/>
<text x="349.4" y="731.3" font-family='"Liberation Sans","Noto Sans CJK SC",sans-serif' font-size="14.0" textLength="41.9" lengthAdjust="spacingAndGlyphs" fill="#000" stroke="#fff" stroke-width="3.2" stroke-linejoin="round" paint-order="stroke">门头沟</text>
<text transform="translate(353,707.7) scale(0.84,1)" x="4.6 15.3 23.3 36.7" y="0" font-family="Liberation Sans,sans-serif" font-size="17.2" text-anchor="middle" fill="#000" stroke="#000" stroke-width="0.45">44.3</text>
<circle cx="408.5" cy="725.4" r="2.3" fill="#8f8f8f"/>
<text x="393.4" y="741.9" font-family='"Liberation Sans","Noto Sans CJK SC",sans-serif' font-size="15.9" textLength="28.8" lengthAdjust="spacingAndGlyphs" fill="#000" stroke="#fff" stroke-width="3.2" stroke-linejoin="round" paint-order="stroke">丰台</text>
<text transform="translate(392.3,718.5) scale(0.84,1)" x="4.5 14.9 22.7 35.6" y="0" font-family="Liberation Sans,sans-serif" font-size="17.2" text-anchor="middle" fill="#000" stroke="#000" stroke-width="0.45">68.8</text>
<circle cx="514.5" cy="680.5" r="2.3" fill="#8f8f8f"/>
<text x="499.4" y="696.5" font-family='"Liberation Sans","Noto Sans CJK SC",sans-serif' font-size="14.2" textLength="28.6" lengthAdjust="spacingAndGlyphs" fill="#000" stroke="#fff" stroke-width="3.2" stroke-linejoin="round" paint-order="stroke">朝阳</text>
<text transform="translate(496,672.5) scale(0.84,1)" x="4.5 15.0 22.9 36.0" y="0" font-family="Liberation Sans,sans-serif" font-size="17.2" text-anchor="middle" fill="#000" stroke="#000" stroke-width="0.45">84.8</text>
<circle cx="501" cy="760" r="2.3" fill="#8f8f8f"/>
<text x="478.4" y="778.0" font-family='"Liberation Sans","Noto Sans CJK SC",sans-serif' font-size="14.8" textLength="44.7" lengthAdjust="spacingAndGlyphs" fill="#000" stroke="#fff" stroke-width="3.2" stroke-linejoin="round" paint-order="stroke">观象台</text>
<text transform="translate(482.5,752.5) scale(0.84,1)" x="4.7 15.4 23.5 37.0" y="0" font-family="Liberation Sans,sans-serif" font-size="17.2" text-anchor="middle" fill="#000" stroke="#000" stroke-width="0.45">62.8</text>
<circle cx="387.5" cy="778" r="2.3" fill="#8f8f8f"/>
<text x="372.0" y="795.0" font-family='"Liberation Sans","Noto Sans CJK SC",sans-serif' font-size="13.6" textLength="28.6" lengthAdjust="spacingAndGlyphs" fill="#000" stroke="#fff" stroke-width="3.2" stroke-linejoin="round" paint-order="stroke">房山</text>
<text transform="translate(366,772.5) scale(0.84,1)" x="4.7 15.4 26.2 34.2 47.7" y="0" font-family="Liberation Sans,sans-serif" font-size="17.2" text-anchor="middle" fill="#000" stroke="#000" stroke-width="0.45">109.1</text>
<circle cx="453" cy="808" r="2.3" fill="#8f8f8f"/>
<text x="438.4" y="824.9" font-family='"Liberation Sans","Noto Sans CJK SC",sans-serif' font-size="15.3" textLength="29.7" lengthAdjust="spacingAndGlyphs" fill="#000" stroke="#fff" stroke-width="3.2" stroke-linejoin="round" paint-order="stroke">大兴</text>
<text transform="translate(432.5,802.5) scale(0.84,1)" x="4.5 14.9 25.3 33.1 46.1" y="0" font-family="Liberation Sans,sans-serif" font-size="17.2" text-anchor="middle" fill="#000" stroke="#000" stroke-width="0.45">102.5</text>
<circle cx="198" cy="801" r="2.3" fill="#8f8f8f"/>
<text x="175.4" y="818.0" font-family='"Liberation Sans","Noto Sans CJK SC",sans-serif' font-size="14.8" textLength="44.2" lengthAdjust="spacingAndGlyphs" fill="#000" stroke="#fff" stroke-width="3.2" stroke-linejoin="round" paint-order="stroke">霞云岭</text>
<text transform="translate(180,794.0) scale(0.84,1)" x="4.7 15.4 23.5 37.0" y="0" font-family="Liberation Sans,sans-serif" font-size="17.2" text-anchor="middle" fill="#000" stroke="#000" stroke-width="0.45">49.7</text>
<circle cx="620" cy="737.5" r="2.3" fill="#8f8f8f"/>
<text x="605.4" y="753.0" font-family='"Liberation Sans","Noto Sans CJK SC",sans-serif' font-size="14.8" textLength="29.2" lengthAdjust="spacingAndGlyphs" fill="#000" stroke="#fff" stroke-width="3.2" stroke-linejoin="round" paint-order="stroke">通州</text>
<text transform="translate(607.5,731.0) scale(0.84,1)" x="4.5 12.3 25.3" y="0" font-family="Liberation Sans,sans-serif" font-size="17.2" text-anchor="middle" fill="#000" stroke="#000" stroke-width="0.45">7.8</text>
<polygon points="334,834 339.5,823 345,834" fill="#000"/>
<text transform="translate(347.5,834.0) scale(0.84,1)" x="4.6 15.3 25.9 33.8 47.2" y="0" font-family="Liberation Sans,sans-serif" font-size="17.2" text-anchor="middle" fill="#000" stroke="#000" stroke-width="0.45">179.4</text>
<text x="320.3" y="854.7" font-family='"Liberation Sans","Noto Sans CJK SC",sans-serif' font-size="18.2" textLength="38.0" lengthAdjust="spacingAndGlyphs" fill="#000" stroke="#fff" stroke-width="3.2" stroke-linejoin="round" paint-order="stroke">阎村</text>
<polygon points="492.5,888 502.5,888 497.5,899" fill="#000"/>
<text transform="translate(505,900.0) scale(0.84,1)" x="4.5 12.3 25.3" y="0" font-family="Liberation Sans,sans-serif" font-size="17.2" text-anchor="middle" fill="#000" stroke="#000" stroke-width="0.45">0.1</text>
<text x="461.8" y="919.7" font-family='"Liberation Sans","Noto Sans CJK SC",sans-serif' font-size="18.2" textLength="71.5" lengthAdjust="spacingAndGlyphs" fill="#000" stroke="#fff" stroke-width="3.2" stroke-linejoin="round" paint-order="stroke">敬贤家园</text>
<rect x="935.5" y="668.9" width="24.5" height="43.5" fill="#780037" stroke="#000" stroke-width="1.5"/>
<rect x="935.5" y="712.4" width="24.5" height="43.5" fill="#ff00ff" stroke="#000" stroke-width="1.5"/>
<rect x="935.5" y="755.9" width="24.5" height="43.5" fill="#1121fe" stroke="#000" stroke-width="1.5"/>
<rect x="935.5" y="799.4" width="24.5" height="43.5" fill="#95d9f7" stroke="#000" stroke-width="1.5"/>
<rect x="935.5" y="842.9" width="24.5" height="43.5" fill="#4be60c" stroke="#000" stroke-width="1.5"/>
<rect x="935.5" y="886.4" width="24.5" height="44.0" fill="#a8fd76" stroke="#000" stroke-width="1.5"/>
<text x="966" y="717.9" font-family="Liberation Sans,sans-serif" font-size="20.5" textLength="32.2" lengthAdjust="spacingAndGlyphs" fill="#111">250</text>
<text x="966" y="761.4" font-family="Liberation Sans,sans-serif" font-size="20.5" textLength="32.2" lengthAdjust="spacingAndGlyphs" fill="#111">100</text>
<text x="966" y="804.9" font-family="Liberation Sans,sans-serif" font-size="20.5" textLength="21.5" lengthAdjust="spacingAndGlyphs" fill="#111">50</text>
<text x="966" y="848.4" font-family="Liberation Sans,sans-serif" font-size="20.5" textLength="21.5" lengthAdjust="spacingAndGlyphs" fill="#111">25</text>
<text x="966" y="891.9" font-family="Liberation Sans,sans-serif" font-size="20.5" textLength="21.5" lengthAdjust="spacingAndGlyphs" fill="#111">10</text>
<text x="966" y="935.9" font-family="Liberation Sans,sans-serif" font-size="20.5" textLength="32.2" lengthAdjust="spacingAndGlyphs" fill="#111">0.1</text>
<text x="927.5" y="655" font-family='"Liberation Sans","Noto Sans CJK SC",sans-serif' font-size="19.5" textLength="87" lengthAdjust="spacingAndGlyphs" fill="#222">降雨(mm)</text>
<rect x="724" y="796.5" width="192" height="192.5" rx="2" fill="#fff" stroke="#c4c4c4" stroke-width="1.2"/>
<text transform="translate(735.5,823.0) scale(1.3,1)" x="0" y="0" font-family='"Liberation Sans","Noto Sans CJK SC",sans-serif' font-size="25" fill="#000">≥</text>
<text x="765.5" y="823.5" font-family="Liberation Sans,sans-serif" font-size="19" textLength="40.0" lengthAdjust="spacingAndGlyphs" fill="#000">10mm</text>
<text x="805" y="823.5" font-family='"Liberation Sans","Noto Sans CJK SC",sans-serif' font-size="19" fill="#000">站数：</text>
<text x="865" y="823.5" font-family="Liberation Sans,sans-serif" font-size="19" textLength="39.2" lengthAdjust="spacingAndGlyphs" fill="#000">2097</text>
<text transform="translate(735.5,845.0) scale(1.3,1)" x="0" y="0" font-family='"Liberation Sans","Noto Sans CJK SC",sans-serif' font-size="25" fill="#000">≥</text>
<text x="765.5" y="845.5" font-family="Liberation Sans,sans-serif" font-size="19" textLength="40.0" lengthAdjust="spacingAndGlyphs" fill="#000">25mm</text>
<text x="805" y="845.5" font-family='"Liberation Sans","Noto Sans CJK SC",sans-serif' font-size="19" fill="#000">站数：</text>
<text x="865" y="845.5" font-family="Liberation Sans,sans-serif" font-size="19" textLength="39.2" lengthAdjust="spacingAndGlyphs" fill="#000">1716</text>
<text transform="translate(735.5,867.0) scale(1.3,1)" x="0" y="0" font-family='"Liberation Sans","Noto Sans CJK SC",sans-serif' font-size="25" fill="#000">≥</text>
<text x="765.5" y="867.5" font-family="Liberation Sans,sans-serif" font-size="19" textLength="40.0" lengthAdjust="spacingAndGlyphs" fill="#000">50mm</text>
<text x="805" y="867.5" font-family='"Liberation Sans","Noto Sans CJK SC",sans-serif' font-size="19" fill="#000">站数：</text>
<text x="865" y="867.5" font-family="Liberation Sans,sans-serif" font-size="19" textLength="29.4" lengthAdjust="spacingAndGlyphs" fill="#000">846</text>
<text transform="translate(735.5,889.0) scale(1.3,1)" x="0" y="0" font-family='"Liberation Sans","Noto Sans CJK SC",sans-serif' font-size="25" fill="#000">≥</text>
<text x="755" y="889.5" font-family="Liberation Sans,sans-serif" font-size="19" textLength="50.5" lengthAdjust="spacingAndGlyphs" fill="#000">100mm</text>
<text x="805" y="889.5" font-family='"Liberation Sans","Noto Sans CJK SC",sans-serif' font-size="19" fill="#000">站数：</text>
<text x="865" y="889.5" font-family="Liberation Sans,sans-serif" font-size="19" textLength="19.6" lengthAdjust="spacingAndGlyphs" fill="#000">75</text>
<text x="765.5" y="911.5" font-family='"Liberation Sans","Noto Sans CJK SC",sans-serif' font-size="19" fill="#000">T表示微量</text>
<text x="736" y="933.5" font-family='"Liberation Sans","Noto Sans CJK SC",sans-serif' font-size="19" fill="#000"><tspan dy="-2.5" textLength="58" lengthAdjust="spacingAndGlyphs">——————</tspan><tspan x="795.3" dy="2.5">最大值</tspan><tspan x="855" dy="-2.5" textLength="49" lengthAdjust="spacingAndGlyphs">—————</tspan></text>
<text x="736" y="955.5" font-family='"Liberation Sans","Noto Sans CJK SC",sans-serif' font-size="19" fill="#000">北京市</text>
<text x="736" y="977.5" font-family='"Liberation Sans","Noto Sans CJK SC",sans-serif' font-size="19" fill="#000">阎村：<tspan x="795.3" font-family="Liberation Sans,sans-serif" textLength="49.5" lengthAdjust="spacingAndGlyphs">179.4</tspan></text>
<text x="60" y="985" font-family='"Liberation Sans","Noto Sans CJK SC",sans-serif' font-size="19" textLength="219.5" lengthAdjust="spacingAndGlyphs" fill="#000">2025年07月10日08时制作</text>
<text x="60" y="1005" font-family='"Liberation Sans","Noto Sans CJK SC",sans-serif' font-size="15" textLength="172.5" lengthAdjust="spacingAndGlyphs" fill="#9a9a9a">审图号：GS(2017)3320号</text>
<text x="367" y="994.5" font-family='"Liberation Sans","Noto Sans CJK SC",sans-serif' font-size="24.5" textLength="313" lengthAdjust="spacingAndGlyphs" fill="#000">数据源：水务+规自+气象站点</text>
<circle cx="926.5" cy="113.5" r="78" fill="url(#lg1)"/>
<path id="arcT" d="M 887.5,166.2 A 65.5 65.5 0 1 1 969.5,64.1" fill="none"/>
<text font-family="Liberation Sans,sans-serif" font-size="11.5" fill="#fff" stroke="#fff" stroke-width="0.3"><textPath href="#arcT" textLength="210.9" lengthAdjust="spacing">BEIJING METEOROLOGICAL SERVICE</textPath></text>
<path id="arcB" d="M 898.4,179.8 A 72 72 0 0 0 980.8,160.7" fill="none"/>
<text font-family='"Liberation Sans","Noto Sans CJK SC",sans-serif' font-size="13" fill="#fff"><textPath href="#arcB" textLength="90.5" lengthAdjust="spacing">北京市气象局</textPath></text>
<path d="M905.6,159 L905.6,66 Q905.6,63.5 908,63.5 L912,63.5 Q914.5,63.5 914.5,66 L914.5,78 Q915,86 922,88 Q936,91 942,96 Q947,101 940,105 Q943,100 938,97 Q930,93 918,91 Q910,89 910,80 L910,159 Z" fill="#fff"/>
<path d="M909,108.5 Q940,108 952,113 Q960,117 956,127 Q957,119 950,116 Q938,113 909,113.5 Z" fill="#fff"/>
<path d="M909,128 Q950,127 965,133 Q973,137 969.5,141 Q968,137 960,135 Q945,132 909,134.5 Z" fill="#fff"/>
<path d="M881,94 L888,97.3 L920,97.3 L920,99.2 L888,99.2 L881,102.5 Z" fill="#fff"/>
<path d="M919.5,95.5 L930,98.2 L919.5,101 L921.5,98.2 Z" fill="#e02020"/>
</svg></body></html>
